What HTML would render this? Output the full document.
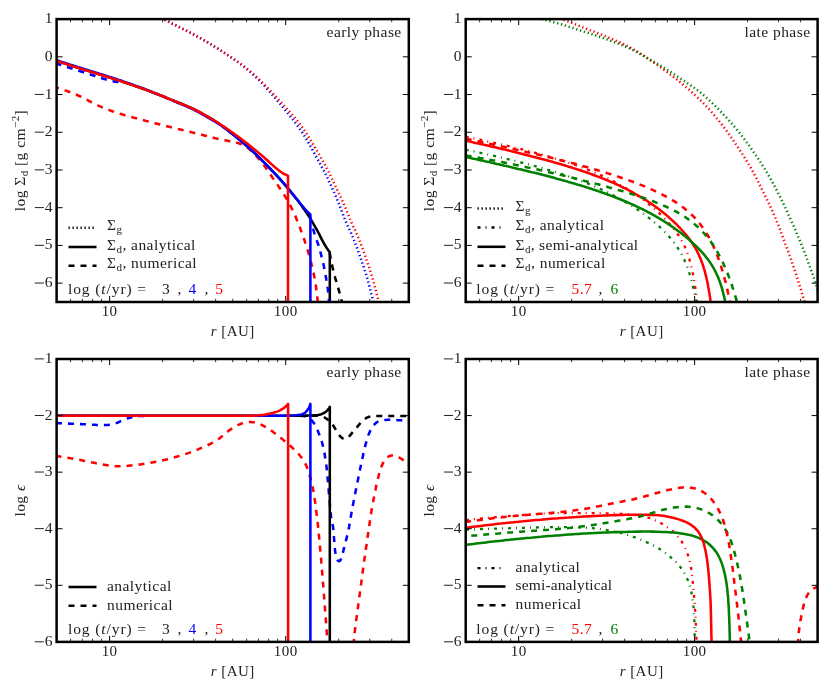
<!DOCTYPE html>
<html><head><meta charset="utf-8"><title>fig</title>
<style>
html,body{margin:0;padding:0;background:#fff;}
body{width:830px;height:692px;overflow:hidden;font-family:"Liberation Serif",serif;}
svg{display:block;}
text{font-family:"Liberation Serif",serif;letter-spacing:0.45px;}
</style></head><body>
<svg width="830" height="692" viewBox="0 0 830 692">
<rect x="0" y="0" width="830" height="692" fill="#fff"/>
<defs>
<clipPath id="c1"><rect x="56.60" y="19.10" width="352.20" height="282.90"/></clipPath>
<clipPath id="c2"><rect x="465.70" y="19.10" width="351.90" height="282.90"/></clipPath>
<clipPath id="c3"><rect x="56.60" y="359.00" width="352.20" height="282.90"/></clipPath>
<clipPath id="c4"><rect x="465.70" y="359.00" width="351.90" height="282.90"/></clipPath>
</defs>
<g clip-path="url(#c1)" fill="none" stroke-linejoin="round">
<path d="M150.0 13.0 L152.3 14.0 L154.6 15.0 L156.9 16.0 L159.1 17.1 L161.4 18.2 L163.7 19.3 L165.9 20.4 L168.1 21.5 L170.4 22.7 L172.6 23.8 L174.8 24.9 L177.1 26.0 L179.3 27.1 L181.6 28.3 L183.8 29.4 L186.0 30.5 L188.3 31.7 L190.5 32.8 L192.7 34.0 L194.9 35.2 L197.1 36.4 L199.3 37.6 L201.5 38.8 L203.7 40.0 L205.8 41.3 L208.0 42.5 L210.2 43.8 L212.3 45.1 L214.4 46.5 L216.5 47.8 L218.7 49.1 L220.8 50.5 L222.9 51.9 L225.0 53.2 L227.0 54.6 L229.1 56.0 L231.2 57.4 L233.3 58.8 L235.3 60.3 L237.4 61.7 L239.4 63.2 L241.4 64.7 L243.4 66.2 L245.3 67.8 L247.3 69.4 L249.2 71.0 L251.0 72.7 L252.9 74.3 L254.7 76.0 L256.6 77.8 L258.4 79.5 L260.1 81.3 L261.9 83.1 L263.6 84.9 L265.3 86.7 L267.0 88.6 L268.7 90.5 L270.3 92.3 L271.9 94.3 L273.5 96.2 L275.2 98.1 L276.8 100.0 L278.4 101.9 L280.0 103.8 L281.6 105.7 L283.2 107.7 L284.8 109.6 L286.4 111.5 L288.0 113.5 L289.6 115.4 L291.1 117.4 L292.7 119.3 L294.2 121.3 L295.7 123.3 L297.2 125.3 L298.7 127.4 L300.1 129.4 L301.5 131.5 L302.9 133.6 L304.3 135.7 L305.6 137.8 L306.9 140.0 L308.1 142.1 L309.4 144.3 L310.6 146.5 L311.8 148.7 L313.0 150.9 L314.2 153.1 L315.4 155.3 L316.6 157.5 L317.9 159.6 L319.1 161.8 L320.2 164.0 L321.4 166.3 L322.6 168.5 L323.8 170.7 L324.9 172.9 L326.1 175.1 L327.2 177.4 L328.3 179.6 L329.3 181.9 L330.4 184.2 L331.4 186.5 L332.4 188.7 L333.5 191.0 L334.5 193.3 L335.5 195.6 L336.5 197.9 L337.4 200.2 L338.4 202.6 L339.3 204.9 L340.2 207.2 L341.1 209.6 L342.0 211.9 L342.9 214.3 L343.8 216.6 L344.7 218.9 L345.6 221.2 L346.6 223.5 L347.7 225.8 L348.7 228.1 L349.8 230.3 L350.9 232.6 L351.9 234.9 L352.9 237.2 L353.8 239.5 L354.7 241.8 L355.6 244.2 L356.5 246.5 L357.4 248.9 L358.2 251.2 L359.0 253.6 L359.9 256.0 L360.7 258.3 L361.5 260.7 L362.3 263.1 L363.2 265.4 L364.0 267.8 L364.7 270.2 L365.5 272.6 L366.3 275.0 L367.0 277.4 L367.7 279.8 L368.3 282.2 L369.0 284.6 L369.6 287.0 L370.2 289.5 L370.8 291.9 L371.4 294.3 L372.1 296.7 L372.7 299.2 L373.4 301.6 L374.0 304.0" stroke="#0000ff" stroke-width="2.50" stroke-dasharray="1.3 2.7"/>
<path d="M150.0 13.0 L152.3 14.0 L154.6 15.0 L156.9 16.0 L159.2 17.1 L161.4 18.2 L163.7 19.3 L165.9 20.4 L168.1 21.5 L170.4 22.7 L172.6 23.8 L174.9 24.9 L177.1 26.0 L179.3 27.1 L181.6 28.3 L183.8 29.4 L186.1 30.5 L188.3 31.7 L190.5 32.8 L192.7 34.0 L194.9 35.2 L197.1 36.4 L199.3 37.6 L201.5 38.8 L203.7 40.0 L205.9 41.3 L208.0 42.6 L210.2 43.9 L212.3 45.2 L214.5 46.5 L216.6 47.8 L218.7 49.2 L220.8 50.5 L222.9 51.9 L225.0 53.3 L227.1 54.6 L229.2 56.0 L231.3 57.4 L233.4 58.8 L235.4 60.2 L237.5 61.6 L239.5 63.1 L241.6 64.6 L243.6 66.1 L245.5 67.6 L247.5 69.2 L249.4 70.8 L251.3 72.4 L253.2 74.0 L255.1 75.7 L256.9 77.4 L258.8 79.1 L260.6 80.9 L262.4 82.6 L264.1 84.4 L265.9 86.2 L267.6 88.0 L269.4 89.8 L271.1 91.6 L272.8 93.4 L274.5 95.3 L276.2 97.1 L277.9 98.9 L279.6 100.8 L281.3 102.6 L283.0 104.5 L284.7 106.3 L286.4 108.2 L288.0 110.1 L289.7 111.9 L291.4 113.8 L293.0 115.7 L294.7 117.6 L296.3 119.5 L297.9 121.5 L299.4 123.4 L300.9 125.4 L302.4 127.5 L303.8 129.5 L305.2 131.6 L306.6 133.7 L307.9 135.8 L309.2 137.9 L310.5 140.1 L311.8 142.2 L313.1 144.4 L314.4 146.5 L315.7 148.7 L317.0 150.8 L318.2 153.0 L319.5 155.2 L320.7 157.3 L322.0 159.5 L323.2 161.7 L324.4 163.9 L325.6 166.1 L326.7 168.3 L327.9 170.6 L329.1 172.8 L330.2 175.0 L331.3 177.3 L332.4 179.5 L333.5 181.8 L334.5 184.1 L335.5 186.3 L336.6 188.6 L337.6 190.9 L338.7 193.2 L339.8 195.4 L340.9 197.7 L342.0 199.9 L343.0 202.2 L344.0 204.5 L345.0 206.8 L346.0 209.1 L346.9 211.4 L347.8 213.8 L348.8 216.1 L349.7 218.4 L350.7 220.7 L351.7 223.0 L352.7 225.3 L353.8 227.6 L354.9 229.8 L355.9 232.1 L357.0 234.4 L358.0 236.7 L358.9 239.0 L359.8 241.3 L360.7 243.7 L361.6 246.0 L362.5 248.4 L363.3 250.7 L364.2 253.1 L365.0 255.5 L365.8 257.8 L366.6 260.2 L367.5 262.6 L368.3 264.9 L369.1 267.3 L369.9 269.7 L370.7 272.1 L371.4 274.5 L372.1 276.9 L372.8 279.3 L373.5 281.7 L374.1 284.1 L374.8 286.5 L375.4 289.0 L376.0 291.4 L376.6 293.8 L377.2 296.2 L377.9 298.7 L378.5 301.1 L379.2 303.5 L379.3 304.0" stroke="#ff0000" stroke-width="2.50" stroke-dasharray="1.3 2.7"/>
<path d="M57.0 61.0 L59.4 61.8 L61.8 62.6 L64.1 63.4 L66.5 64.1 L68.9 64.9 L71.3 65.7 L73.7 66.4 L76.1 67.2 L78.5 67.9 L80.8 68.7 L83.2 69.4 L85.6 70.2 L88.0 70.9 L90.4 71.6 L92.8 72.4 L95.2 73.1 L97.6 73.8 L100.0 74.6 L102.4 75.3 L104.8 76.1 L107.2 76.8 L109.6 77.6 L112.0 78.3 L114.3 79.1 L116.7 79.8 L119.1 80.6 L121.5 81.4 L123.9 82.2 L126.2 83.0 L128.6 83.8 L131.0 84.6 L133.4 85.4 L135.7 86.2 L138.1 87.0 L140.5 87.8 L142.8 88.7 L145.2 89.5 L147.5 90.4 L149.9 91.3 L152.2 92.2 L154.6 93.1 L156.9 94.0 L159.2 94.9 L161.6 95.8 L163.9 96.7 L166.2 97.7 L168.5 98.6 L170.8 99.6 L173.2 100.5 L175.5 101.5 L177.8 102.4 L180.1 103.3 L182.5 104.3 L184.8 105.2 L187.1 106.2 L189.4 107.2 L191.7 108.2 L194.0 109.2 L196.2 110.3 L198.4 111.5 L200.6 112.7 L202.8 113.9 L205.0 115.1 L207.2 116.4 L209.3 117.6 L211.5 118.9 L213.7 120.2 L215.8 121.5 L217.9 122.9 L219.9 124.3 L222.0 125.7 L224.0 127.2 L226.0 128.8 L227.9 130.3 L229.9 131.9 L231.8 133.5 L233.8 135.0 L235.7 136.6 L237.7 138.2 L239.6 139.8 L241.5 141.4 L243.4 143.0 L245.3 144.7 L247.2 146.3 L249.1 148.0 L250.9 149.7 L252.8 151.4 L254.6 153.1 L256.4 154.8 L258.2 156.6 L260.0 158.3 L261.8 160.1 L263.5 161.9 L265.3 163.6 L267.0 165.4 L268.8 167.2 L270.5 169.0 L272.3 170.8 L274.0 172.6 L275.7 174.5 L277.4 176.3 L279.1 178.2 L280.8 180.0 L282.4 181.9 L284.0 183.8 L285.7 185.7 L287.3 187.7 L288.9 189.6 L290.5 191.5 L292.0 193.5 L293.6 195.4 L295.2 197.4 L296.7 199.3 L298.3 201.3 L299.8 203.3 L301.3 205.3 L302.7 207.4 L304.2 209.4 L305.6 211.5 L307.0 213.5 L308.4 215.6 L309.7 217.7 L311.1 219.9 L312.4 222.0 L313.6 224.2 L314.9 226.3 L316.1 228.5 L317.3 230.7 L318.5 232.9 L319.7 235.2 L320.8 237.4 L321.9 239.6 L323.1 241.8 L324.3 244.0 L325.6 246.2 L326.9 248.3 L328.3 250.3 L329.8 252.3 L329.8 304.0" stroke="#000000" stroke-width="2.55"/>
<path d="M329.6 252.8 L329.7 253.3 L329.8 253.8 L329.9 254.3 L330.0 254.8 L330.1 255.3 L330.2 255.8 L330.2 256.3 L330.3 256.8 L330.4 257.3 L330.5 257.8 L330.6 258.3 L330.7 258.8 L330.8 259.3 L330.9 259.8 L331.0 260.3 L331.1 260.8 L331.2 261.3 L331.3 261.8 L331.4 262.3 L331.5 262.8 L331.6 263.3 L331.7 263.8 L331.8 264.3 L332.0 264.8 L332.1 265.3 L332.2 265.8 L332.3 266.3 L332.4 266.8 L332.5 267.2 L332.6 267.7 L332.7 268.2 L332.9 268.7 L333.0 269.2 L333.1 269.7 L333.2 270.2 L333.3 270.7 L333.5 271.2 L333.6 271.7 L333.7 272.2 L333.8 272.7 L334.0 273.2 L334.1 273.7 L334.2 274.2 L334.3 274.6 L334.5 275.1 L334.6 275.6 L334.7 276.1 L334.9 276.6 L335.0 277.1 L335.1 277.6 L335.3 278.1 L335.4 278.6 L335.6 279.1 L335.7 279.5 L335.8 280.0 L336.0 280.5 L336.1 281.0 L336.3 281.5 L336.4 282.0 L336.6 282.5 L336.7 283.0 L336.8 283.4 L337.0 283.9 L337.1 284.4 L337.3 284.9 L337.4 285.4 L337.6 285.9 L337.7 286.4 L337.8 286.9 L338.0 287.3 L338.1 287.8 L338.3 288.3 L338.4 288.8 L338.6 289.3 L338.7 289.8 L338.8 290.3 L339.0 290.8 L339.1 291.3 L339.2 291.7 L339.4 292.2 L339.5 292.7 L339.7 293.2 L339.8 293.7 L339.9 294.2 L340.1 294.7 L340.2 295.2 L340.3 295.7 L340.5 296.2 L340.6 296.6 L340.7 297.1 L340.9 297.6 L341.0 298.1 L341.1 298.6 L341.3 299.1 L341.4 299.6 L341.5 300.1 L341.7 300.6 L341.8 301.1 L341.9 301.6 L342.0 302.0 L342.2 302.5 L342.3 303.0 L342.4 303.5 L342.6 304.0 L342.7 304.5" stroke="#000000" stroke-width="2.55" stroke-dasharray="6 6"/>
<path d="M57.0 63.8 L57.5 64.0 L58.0 64.1 L58.4 64.3 L58.9 64.4 L59.4 64.6 L59.9 64.7 L60.4 64.9 L60.9 65.0 L61.3 65.2 L61.8 65.3 L62.3 65.5 L62.8 65.7 L63.3 65.8 L63.7 66.0 L64.2 66.1 L64.7 66.3 L65.2 66.4 L65.7 66.6 L66.2 66.7 L66.6 66.9 L67.1 67.0 L67.6 67.2 L68.1 67.4 L68.6 67.5 L69.1 67.7 L69.5 67.8 L70.0 68.0 L70.5 68.1 L71.0 68.3 L71.5 68.4 L71.9 68.6 L72.4 68.7 L72.9 68.9 L73.4 69.1 L73.9 69.2 L74.4 69.4 L74.8 69.5 L75.3 69.7 L75.8 69.8 L76.3 70.0 L76.8 70.1 L77.3 70.3 L77.7 70.4 L78.2 70.6 L78.7 70.8 L79.2 70.9 L79.7 71.1 L80.1 71.2 L80.6 71.4 L81.1 71.5 L81.6 71.7 L82.1 71.8 L82.6 72.0 L83.0 72.1 L83.5 72.3 L84.0 72.5 L84.5 72.6 L85.0 72.8 L85.4 72.9 L85.9 73.1 L86.4 73.2 L86.9 73.4 L87.4 73.5 L87.9 73.7 L88.3 73.8 L88.8 74.0 L89.3 74.2 L89.8 74.3 L90.3 74.5 L90.7 74.6 L91.2 74.8 L91.7 74.9 L92.2 75.1 L92.7 75.2 L93.2 75.4 L93.6 75.5 L94.1 75.7 L94.6 75.9 L95.1 76.0 L95.6 76.2 L96.1 76.3 L96.5 76.5 L97.0 76.6 L97.5 76.8 L98.0 76.9 L98.5 77.1 L98.9 77.3 L99.4 77.4 L99.9 77.6 L100.4 77.7 L100.9 77.9 L101.4 78.0 L101.8 78.2 L102.3 78.4 L102.8 78.5 L103.3 78.7 L103.8 78.8 L104.2 79.0 L104.7 79.1 L105.2 79.3 L105.7 79.4 L106.2 79.6 L106.7 79.7 L107.1 79.9 L107.6 80.0 L108.1 80.2 L108.6 80.3 L109.1 80.4 L109.6 80.6 L110.1 80.7 L110.6 80.8 L111.0 80.9 L111.5 81.0 L112.0 81.2 L112.5 81.3 L113.0 81.3 L113.5 81.4 L114.0 81.5 L114.5 81.6 L115.0 81.7 L115.5 81.7 L116.0 81.8 L116.5 81.8 L117.0 81.9 L117.5 81.9 L118.0 81.9 L118.5 81.9 L119.0 81.9 L119.5 82.0 L120.0 82.0 L120.5 82.0 L121.0 81.9 L121.5 81.9 L122.0 81.9 L122.5 81.9 L123.0 81.9" stroke="#0000ff" stroke-width="2.55" stroke-dasharray="6 6" stroke-dashoffset="1.5"/>
<path d="M310.3 217.0 L310.5 218.0 L310.7 219.0 L310.9 220.0 L311.2 221.0 L311.4 221.9 L311.6 222.9 L311.8 223.9 L312.1 224.9 L312.3 225.9 L312.6 226.8 L312.8 227.8 L313.1 228.8 L313.4 229.8 L313.7 230.7 L313.9 231.7 L314.2 232.6 L314.5 233.6 L314.9 234.6 L315.2 235.5 L315.5 236.5 L315.8 237.4 L316.2 238.4 L316.5 239.3 L316.8 240.3 L317.1 241.3 L317.4 242.2 L317.8 243.2 L318.1 244.1 L318.4 245.1 L318.7 246.1 L319.0 247.0 L319.2 248.0 L319.5 249.0 L319.8 249.9 L320.1 250.9 L320.3 251.9 L320.6 252.8 L320.9 253.8 L321.1 254.8 L321.4 255.8 L321.6 256.8 L321.9 257.7 L322.1 258.7 L322.3 259.7 L322.6 260.7 L322.8 261.7 L323.0 262.6 L323.3 263.6 L323.5 264.6 L323.7 265.6 L323.9 266.6 L324.1 267.6 L324.3 268.6 L324.5 269.6 L324.7 270.5 L324.9 271.5 L325.1 272.5 L325.3 273.5 L325.4 274.5 L325.6 275.5 L325.8 276.5 L326.0 277.5 L326.2 278.5 L326.3 279.5 L326.5 280.5 L326.7 281.5 L326.8 282.5 L327.0 283.5 L327.2 284.5 L327.3 285.5 L327.5 286.4 L327.6 287.4 L327.8 288.4 L327.9 289.4 L328.0 290.4 L328.1 291.4 L328.3 292.4 L328.4 293.4 L328.5 294.5 L328.6 295.5 L328.7 296.5 L328.8 297.5 L328.9 298.5 L328.9 299.5 L329.0 300.5 L329.1 301.5 L329.2 302.5 L329.3 303.5 L329.4 304.5" stroke="#0000ff" stroke-width="2.55" stroke-dasharray="6 6"/>
<path d="M57.0 87.8 L59.4 88.5 L61.8 89.3 L64.2 90.1 L66.6 90.9 L68.9 91.7 L71.3 92.6 L73.6 93.5 L75.9 94.5 L78.2 95.5 L80.4 96.5 L82.7 97.6 L84.9 98.8 L87.2 99.9 L89.4 101.1 L91.6 102.3 L93.8 103.4 L96.1 104.5 L98.3 105.6 L100.6 106.6 L102.9 107.6 L105.2 108.6 L107.6 109.5 L109.9 110.4 L112.3 111.3 L114.6 112.1 L117.0 112.8 L119.4 113.6 L121.8 114.3 L124.2 115.0 L126.6 115.7 L129.0 116.4 L131.5 117.0 L133.9 117.7 L136.3 118.3 L138.7 119.0 L141.1 119.6 L143.6 120.2 L146.0 120.9 L148.4 121.5 L150.8 122.1 L153.3 122.8 L155.7 123.4 L158.1 124.0 L160.6 124.6 L163.0 125.2 L165.4 125.8 L167.8 126.4 L170.3 127.1 L172.7 127.7 L175.1 128.3 L177.6 128.9 L180.0 129.4 L182.4 130.0 L184.9 130.6 L187.3 131.2 L189.7 131.8 L192.2 132.4 L194.6 133.0 L197.1 133.6 L199.5 134.2 L201.9 134.8 L204.3 135.4 L206.8 136.1 L209.2 136.7 L211.6 137.3 L214.1 137.9 L216.5 138.5 L218.9 139.1 L221.4 139.6 L223.8 140.2 L226.3 140.6 L228.7 141.1 L231.2 141.6 L233.7 142.0 L236.1 142.6 L238.5 143.2 L240.9 144.0 L243.1 145.0 L245.2 146.2 L247.3 147.6 L249.2 149.1 L251.1 150.8 L252.9 152.5 L254.6 154.3 L256.4 156.2 L258.0 158.0 L259.7 159.9 L261.3 161.8 L262.8 163.8 L264.3 165.8 L265.8 167.8 L267.2 169.9 L268.6 172.0 L270.0 174.0 L271.5 176.1 L272.9 178.2 L274.3 180.2 L275.7 182.3 L277.2 184.3 L278.6 186.4 L280.0 188.4 L281.4 190.5 L282.8 192.6 L284.1 194.8 L285.4 196.9 L286.7 199.1 L288.0 201.2 L289.2 203.4 L290.3 205.7 L291.5 207.9 L292.6 210.1 L293.6 212.4 L294.7 214.7 L295.7 216.9 L296.6 219.3 L297.6 221.6 L298.5 223.9 L299.4 226.3 L300.3 228.6 L301.1 231.0 L302.0 233.3 L302.8 235.7 L303.7 238.1 L304.5 240.4 L305.3 242.8 L306.1 245.2 L306.8 247.6 L307.6 250.0 L308.3 252.4 L309.0 254.8 L309.7 257.2 L310.4 259.6 L311.0 262.0 L311.6 264.5 L312.2 266.9 L312.8 269.3 L313.3 271.8 L313.8 274.2 L314.3 276.7 L314.8 279.2 L315.2 281.6 L315.6 284.1 L316.0 286.6 L316.3 289.1 L316.6 291.5 L316.9 294.0 L317.2 296.5 L317.5 299.0 L317.7 301.5 L318.0 304.0 L318.0 304.5" stroke="#ff0000" stroke-width="2.55" stroke-dasharray="6 6" stroke-dashoffset="4"/>
<path d="M57.0 60.3 L58.9 60.9 L60.8 61.6 L62.7 62.2 L64.6 62.8 L66.5 63.4 L68.4 64.0 L70.3 64.7 L72.2 65.3 L74.2 65.9 L76.1 66.5 L78.0 67.1 L79.9 67.7 L81.8 68.3 L83.7 68.9 L85.6 69.5 L87.6 70.0 L89.5 70.6 L91.4 71.2 L93.3 71.8 L95.2 72.4 L97.1 73.0 L99.1 73.6 L101.0 74.2 L102.9 74.8 L104.8 75.4 L106.7 76.0 L108.6 76.6 L110.5 77.2 L112.4 77.8 L114.3 78.4 L116.3 79.0 L118.2 79.7 L120.1 80.3 L122.0 80.9 L123.9 81.6 L125.8 82.2 L127.7 82.9 L129.5 83.5 L131.4 84.2 L133.3 84.9 L135.2 85.6 L137.1 86.2 L139.0 86.9 L140.9 87.6 L142.7 88.3 L144.6 89.0 L146.5 89.8 L148.3 90.5 L150.2 91.2 L152.1 92.0 L153.9 92.7 L155.8 93.5 L157.7 94.2 L159.5 95.0 L161.4 95.7 L163.2 96.5 L165.1 97.3 L166.9 98.1 L168.7 98.9 L170.6 99.6 L172.4 100.4 L174.3 101.2 L176.1 102.0 L178.0 102.8 L179.8 103.6 L181.7 104.3 L183.5 105.1 L185.4 105.9 L187.2 106.7 L189.0 107.5 L190.9 108.3 L192.7 109.2 L194.5 110.1 L196.3 111.0 L198.0 111.9 L199.8 112.8 L201.6 113.8 L203.3 114.8 L205.1 115.8 L206.8 116.8 L208.5 117.8 L210.3 118.8 L212.0 119.8 L213.7 120.8 L215.4 121.9 L217.1 122.9 L218.8 124.0 L220.5 125.1 L222.1 126.3 L223.7 127.5 L225.4 128.6 L227.0 129.8 L228.6 131.0 L230.1 132.3 L231.7 133.5 L233.3 134.7 L234.9 136.0 L236.4 137.2 L238.0 138.5 L239.5 139.8 L241.1 141.1 L242.6 142.4 L244.1 143.7 L245.7 145.0 L247.2 146.3 L248.7 147.6 L250.1 149.0 L251.6 150.3 L253.1 151.7 L254.6 153.1 L256.0 154.4 L257.5 155.8 L258.9 157.2 L260.3 158.6 L261.7 160.1 L263.1 161.5 L264.6 162.9 L266.0 164.3 L267.4 165.8 L268.8 167.2 L270.2 168.7 L271.5 170.1 L272.9 171.5 L274.3 173.0 L275.7 174.5 L277.1 175.9 L278.4 177.4 L279.8 178.9 L281.1 180.4 L282.4 181.9 L283.8 183.4 L285.1 184.9 L286.4 186.4 L287.7 187.9 L289.0 189.5 L290.3 191.0 L291.5 192.5 L292.8 194.1 L294.1 195.6 L295.3 197.2 L296.6 198.8 L297.8 200.3 L299.1 201.9 L300.3 203.5 L301.6 205.0 L302.9 206.6 L304.1 208.1 L305.5 209.6 L306.8 211.1 L308.2 212.5 L309.7 213.8 L310.4 214.5 L310.4 304.0" stroke="#0000ff" stroke-width="2.55"/>
<path d="M57.0 61.0 L58.9 61.6 L60.8 62.3 L62.7 62.9 L64.6 63.5 L66.5 64.1 L68.4 64.7 L70.3 65.4 L72.2 66.0 L74.1 66.6 L76.1 67.2 L78.0 67.8 L79.9 68.4 L81.8 69.0 L83.7 69.6 L85.6 70.2 L87.5 70.7 L89.5 71.3 L91.4 71.9 L93.3 72.5 L95.2 73.1 L97.1 73.7 L99.0 74.3 L101.0 74.9 L102.9 75.5 L104.8 76.1 L106.7 76.7 L108.6 77.3 L110.5 77.9 L112.4 78.5 L114.3 79.1 L116.2 79.7 L118.1 80.3 L120.1 80.9 L122.0 81.5 L123.9 82.2 L125.8 82.8 L127.7 83.4 L129.6 84.1 L131.5 84.7 L133.4 85.4 L135.3 86.0 L137.1 86.7 L139.0 87.3 L140.9 88.0 L142.8 88.7 L144.7 89.4 L146.6 90.1 L148.5 90.7 L150.3 91.4 L152.2 92.2 L154.1 92.9 L156.0 93.6 L157.8 94.3 L159.7 95.1 L161.5 95.8 L163.4 96.5 L165.3 97.3 L167.1 98.1 L169.0 98.8 L170.8 99.6 L172.7 100.3 L174.5 101.1 L176.4 101.8 L178.3 102.6 L180.1 103.3 L182.0 104.1 L183.8 104.8 L185.7 105.6 L187.6 106.4 L189.4 107.1 L191.2 108.0 L193.0 108.8 L194.8 109.7 L196.6 110.6 L198.4 111.5 L200.2 112.4 L201.9 113.4 L203.7 114.4 L205.4 115.4 L207.1 116.4 L208.9 117.4 L210.6 118.4 L212.3 119.4 L214.0 120.5 L215.8 121.5 L217.5 122.5 L219.2 123.6 L220.9 124.7 L222.5 125.8 L224.2 126.9 L225.9 128.0 L227.5 129.1 L229.2 130.3 L230.8 131.4 L232.4 132.6 L234.1 133.7 L235.7 134.9 L237.3 136.1 L239.0 137.3 L240.6 138.5 L242.2 139.7 L243.8 140.9 L245.3 142.1 L246.9 143.3 L248.5 144.6 L250.1 145.8 L251.6 147.1 L253.2 148.4 L254.7 149.6 L256.3 150.9 L257.8 152.2 L259.4 153.5 L260.9 154.7 L262.4 156.0 L263.9 157.3 L265.4 158.7 L267.0 160.0 L268.4 161.3 L269.9 162.7 L271.4 164.1 L272.9 165.4 L274.4 166.8 L275.9 168.1 L277.4 169.3 L279.0 170.6 L280.6 171.7 L282.3 172.8 L284.0 173.8 L285.8 174.7 L287.6 175.6 L288.0 175.8 L288.0 304.0" stroke="#ff0000" stroke-width="2.55"/>
</g>
<g clip-path="url(#c2)" fill="none" stroke-linejoin="round">
<path d="M545.0 12.5 L547.8 13.6 L550.6 14.7 L553.4 15.8 L556.2 16.9 L559.0 18.0 L561.8 19.0 L564.6 20.1 L567.4 21.2 L570.2 22.3 L573.0 23.4 L575.8 24.5 L578.6 25.6 L581.4 26.7 L584.2 27.9 L587.0 29.0 L589.8 30.1 L592.6 31.1 L595.4 32.2 L598.2 33.3 L601.0 34.4 L603.8 35.5 L606.5 36.7 L609.3 37.8 L612.1 39.0 L614.8 40.2 L617.6 41.4 L620.3 42.7 L623.0 44.0 L625.7 45.3 L628.4 46.6 L631.1 48.0 L633.7 49.5 L636.3 51.0 L638.9 52.6 L641.4 54.2 L643.9 55.9 L646.3 57.6 L648.8 59.3 L651.3 60.9 L653.8 62.6 L656.3 64.3 L658.8 66.0 L661.3 67.7 L663.7 69.5 L666.1 71.3 L668.5 73.1 L670.9 74.9 L673.3 76.8 L675.6 78.6 L678.0 80.5 L680.3 82.4 L682.6 84.3 L684.9 86.2 L687.2 88.2 L689.5 90.1 L691.7 92.1 L694.0 94.2 L696.2 96.2 L698.4 98.3 L700.5 100.3 L702.7 102.5 L704.8 104.6 L706.8 106.8 L708.9 109.0 L710.9 111.2 L712.8 113.5 L714.7 115.8 L716.6 118.2 L718.5 120.5 L720.4 122.8 L722.3 125.2 L724.1 127.6 L725.9 130.0 L727.7 132.4 L729.4 134.8 L731.2 137.3 L732.9 139.8 L734.6 142.3 L736.2 144.8 L737.9 147.3 L739.6 149.8 L741.2 152.3 L742.8 154.8 L744.4 157.3 L746.0 159.9 L747.6 162.5 L749.1 165.0 L750.7 167.6 L752.1 170.3 L753.6 172.9 L755.0 175.5 L756.4 178.2 L757.7 180.9 L759.1 183.6 L760.4 186.3 L761.7 189.0 L763.0 191.7 L764.4 194.4 L765.7 197.0 L767.1 199.7 L768.4 202.4 L769.7 205.1 L771.0 207.9 L772.2 210.6 L773.4 213.4 L774.6 216.1 L775.8 218.9 L776.9 221.7 L778.1 224.4 L779.2 227.2 L780.3 230.0 L781.3 232.9 L782.3 235.7 L783.4 238.5 L784.4 241.3 L785.4 244.1 L786.5 246.9 L787.6 249.8 L788.6 252.6 L789.6 255.4 L790.6 258.2 L791.6 261.1 L792.5 263.9 L793.5 266.8 L794.5 269.6 L795.4 272.5 L796.4 275.3 L797.3 278.2 L798.2 281.1 L799.1 283.9 L800.0 286.8 L800.9 289.7 L801.7 292.5 L802.6 295.4 L803.5 298.3 L804.5 301.1 L805.4 304.0" stroke="#ff0000" stroke-width="2.50" stroke-dasharray="1.3 2.7"/>
<path d="M530.0 16.0 L532.9 16.7 L535.8 17.5 L538.7 18.2 L541.7 19.0 L544.6 19.7 L547.5 20.5 L550.4 21.3 L553.3 22.1 L556.2 22.9 L559.0 23.7 L561.9 24.5 L564.8 25.4 L567.7 26.3 L570.5 27.2 L573.4 28.1 L576.2 29.1 L579.1 30.0 L581.9 31.0 L584.8 31.9 L587.7 32.8 L590.5 33.7 L593.4 34.7 L596.2 35.6 L599.1 36.6 L601.9 37.6 L604.8 38.6 L607.6 39.6 L610.4 40.7 L613.2 41.7 L616.0 42.8 L618.8 43.9 L621.6 45.0 L624.4 46.2 L627.1 47.3 L629.9 48.6 L632.6 49.9 L635.3 51.2 L637.9 52.6 L640.5 54.1 L643.1 55.6 L645.7 57.1 L648.3 58.6 L650.9 60.1 L653.5 61.6 L656.2 63.1 L658.8 64.6 L661.3 66.1 L663.9 67.7 L666.4 69.3 L669.0 70.9 L671.5 72.6 L674.0 74.2 L676.5 75.9 L679.0 77.5 L681.5 79.2 L684.0 80.8 L686.5 82.5 L689.0 84.2 L691.5 85.9 L693.9 87.6 L696.4 89.4 L698.7 91.2 L701.1 93.1 L703.4 95.0 L705.7 97.0 L707.9 99.0 L710.1 101.0 L712.3 103.1 L714.5 105.2 L716.6 107.3 L718.7 109.4 L720.8 111.6 L722.9 113.8 L724.9 116.0 L727.0 118.2 L729.0 120.4 L731.0 122.7 L732.9 124.9 L734.9 127.2 L736.8 129.5 L738.7 131.9 L740.6 134.2 L742.4 136.6 L744.2 139.0 L746.0 141.4 L747.8 143.8 L749.6 146.2 L751.3 148.7 L753.0 151.2 L754.7 153.6 L756.4 156.1 L758.1 158.6 L759.8 161.1 L761.4 163.6 L763.0 166.2 L764.6 168.7 L766.1 171.3 L767.7 173.9 L769.2 176.5 L770.7 179.1 L772.2 181.7 L773.6 184.3 L775.0 187.0 L776.4 189.6 L777.8 192.3 L779.2 195.0 L780.5 197.7 L781.8 200.4 L783.1 203.1 L784.4 205.8 L785.6 208.5 L786.9 211.3 L788.1 214.0 L789.4 216.7 L790.6 219.5 L791.9 222.2 L793.1 224.9 L794.4 227.7 L795.6 230.4 L796.7 233.2 L797.9 236.0 L799.0 238.8 L800.1 241.5 L801.3 244.3 L802.4 247.1 L803.6 249.9 L804.6 252.7 L805.7 255.5 L806.7 258.3 L807.8 261.1 L808.8 264.0 L809.8 266.8 L810.8 269.6 L811.9 272.4 L812.9 275.3 L813.9 278.1 L814.8 280.9 L815.7 283.8 L816.6 286.7 L817.5 289.5 L818.4 292.4 L819.4 295.3 L820.3 298.1 L821.0 300.0" stroke="#008000" stroke-width="2.50" stroke-dasharray="1.3 2.7"/>
<path d="M465.7 136.8 L467.6 137.2 L469.6 137.6 L471.5 138.0 L473.4 138.4 L475.3 138.8 L477.3 139.2 L479.2 139.6 L481.1 140.0 L483.0 140.4 L485.0 140.8 L486.9 141.3 L488.8 141.7 L490.7 142.1 L492.6 142.5 L494.6 142.9 L496.5 143.4 L498.4 143.8 L500.3 144.2 L502.2 144.7 L504.2 145.1 L506.1 145.6 L508.0 146.0 L509.9 146.5 L511.8 146.9 L513.7 147.4 L515.7 147.8 L517.6 148.3 L519.5 148.8 L521.4 149.2 L523.3 149.7 L525.2 150.2 L527.1 150.7 L529.0 151.2 L530.9 151.7 L532.8 152.2 L534.7 152.7 L536.6 153.2 L538.5 153.7 L540.4 154.2 L542.3 154.7 L544.2 155.3 L546.1 155.8 L548.0 156.3 L549.9 156.9 L551.8 157.4 L553.7 158.0 L555.6 158.6 L557.5 159.1 L559.3 159.7 L561.2 160.3 L563.1 160.9 L565.0 161.5 L566.8 162.1 L568.7 162.7 L570.6 163.4 L572.4 164.0 L574.3 164.6 L576.1 165.3 L578.0 166.0 L579.8 166.6 L581.7 167.3 L583.5 168.0 L585.4 168.7 L587.2 169.4 L589.0 170.2 L590.9 170.9 L592.7 171.6 L594.5 172.4 L596.3 173.2 L598.1 174.0 L599.9 174.8 L601.7 175.6 L603.5 176.4 L605.3 177.2 L607.1 178.1 L608.8 178.9 L610.6 179.8 L612.3 180.7 L614.1 181.6 L615.8 182.5 L617.6 183.4 L619.3 184.4 L621.0 185.3 L622.7 186.3 L624.4 187.3 L626.1 188.3 L627.8 189.3 L629.5 190.4 L631.1 191.4 L632.8 192.5 L634.4 193.6 L636.1 194.7 L637.7 195.8 L639.3 196.9 L640.9 198.1 L642.5 199.2 L644.1 200.4 L645.6 201.6 L647.2 202.8 L648.7 204.1 L650.2 205.3 L651.7 206.6 L653.2 207.8 L654.7 209.1 L656.2 210.4 L657.7 211.8 L659.1 213.1 L660.5 214.5 L661.9 215.8 L663.3 217.2 L664.7 218.6 L666.1 220.0 L667.4 221.5 L668.7 222.9 L670.0 224.4 L671.3 225.9 L672.6 227.4 L673.8 229.0 L675.0 230.5 L676.2 232.1 L677.3 233.7 L678.5 235.3 L679.5 237.0 L680.6 238.6 L681.5 240.3 L682.5 242.1 L683.4 243.8 L684.3 245.6 L685.1 247.4 L685.9 249.2 L686.6 251.0 L687.3 252.8 L688.0 254.7 L688.6 256.6 L689.2 258.4 L689.7 260.3 L690.3 262.2 L690.8 264.1 L691.2 266.0 L691.7 268.0 L692.1 269.9 L692.5 271.8 L692.9 273.7 L693.3 275.7 L693.6 277.6 L694.0 279.5 L694.3 281.5 L694.6 283.4 L694.9 285.4 L695.2 287.3 L695.5 289.3 L695.7 291.2 L696.0 293.2 L696.2 295.1 L696.5 297.1 L696.7 299.0 L696.9 301.0 L697.1 302.9 L697.3 304.9" stroke="#ff0000" stroke-width="2.30" stroke-dasharray="3 5 1 5"/>
<path d="M465.7 140.7 L467.7 141.1 L469.6 141.5 L471.6 142.0 L473.5 142.4 L475.5 142.9 L477.4 143.3 L479.4 143.7 L481.4 144.2 L483.3 144.6 L485.3 145.1 L487.2 145.5 L489.2 146.0 L491.1 146.4 L493.1 146.9 L495.1 147.3 L497.0 147.8 L499.0 148.3 L500.9 148.7 L502.9 149.2 L504.8 149.6 L506.8 150.1 L508.7 150.6 L510.7 151.0 L512.6 151.5 L514.6 152.0 L516.5 152.5 L518.5 152.9 L520.4 153.4 L522.4 153.9 L524.3 154.4 L526.3 154.9 L528.2 155.4 L530.2 155.9 L532.1 156.4 L534.0 156.9 L536.0 157.4 L537.9 157.9 L539.9 158.4 L541.8 158.9 L543.7 159.4 L545.7 160.0 L547.6 160.5 L549.5 161.0 L551.5 161.6 L553.4 162.1 L555.3 162.7 L557.3 163.2 L559.2 163.8 L561.1 164.3 L563.0 164.9 L565.0 165.5 L566.9 166.1 L568.8 166.7 L570.7 167.3 L572.6 167.9 L574.6 168.5 L576.5 169.1 L578.4 169.7 L580.3 170.3 L582.2 171.0 L584.1 171.6 L586.0 172.3 L587.9 172.9 L589.8 173.6 L591.6 174.3 L593.5 175.0 L595.4 175.7 L597.3 176.4 L599.2 177.1 L601.0 177.8 L602.9 178.6 L604.8 179.3 L606.6 180.1 L608.5 180.8 L610.3 181.6 L612.2 182.4 L614.0 183.2 L615.8 184.0 L617.7 184.9 L619.5 185.7 L621.3 186.6 L623.1 187.5 L624.9 188.3 L626.7 189.2 L628.5 190.2 L630.3 191.1 L632.0 192.0 L633.8 193.0 L635.5 194.0 L637.3 195.0 L639.0 196.0 L640.7 197.0 L642.5 198.0 L644.2 199.1 L645.9 200.2 L647.6 201.2 L649.2 202.4 L650.9 203.5 L652.5 204.6 L654.2 205.8 L655.8 206.9 L657.4 208.1 L659.0 209.3 L660.6 210.6 L662.2 211.8 L663.8 213.1 L665.3 214.3 L666.9 215.6 L668.4 216.9 L669.9 218.3 L671.4 219.6 L672.9 221.0 L674.3 222.3 L675.8 223.7 L677.2 225.1 L678.6 226.6 L680.0 228.0 L681.3 229.5 L682.7 231.0 L684.0 232.5 L685.3 234.0 L686.6 235.6 L687.8 237.1 L689.1 238.7 L690.3 240.3 L691.4 242.0 L692.5 243.6 L693.6 245.3 L694.7 247.0 L695.7 248.8 L696.7 250.5 L697.6 252.3 L698.5 254.1 L699.3 255.9 L700.1 257.8 L700.9 259.6 L701.6 261.5 L702.3 263.4 L702.9 265.3 L703.6 267.2 L704.1 269.1 L704.7 271.0 L705.2 273.0 L705.7 274.9 L706.2 276.9 L706.6 278.8 L707.1 280.8 L707.5 282.8 L707.9 284.7 L708.2 286.7 L708.6 288.7 L708.9 290.6 L709.3 292.6 L709.6 294.6 L709.9 296.6 L710.2 298.6 L710.4 300.6 L710.7 302.5 L711.0 304.5" stroke="#ff0000" stroke-width="2.55"/>
<path d="M465.7 138.7 L467.8 139.1 L469.9 139.6 L472.0 140.0 L474.1 140.4 L476.2 140.9 L478.3 141.3 L480.4 141.8 L482.5 142.2 L484.6 142.7 L486.6 143.1 L488.7 143.6 L490.8 144.0 L492.9 144.5 L495.0 144.9 L497.1 145.4 L499.2 145.8 L501.3 146.3 L503.4 146.7 L505.5 147.2 L507.6 147.7 L509.7 148.1 L511.7 148.6 L513.8 149.1 L515.9 149.5 L518.0 150.0 L520.1 150.5 L522.2 150.9 L524.3 151.4 L526.4 151.9 L528.5 152.4 L530.5 152.9 L532.6 153.3 L534.7 153.8 L536.8 154.3 L538.9 154.8 L541.0 155.3 L543.0 155.8 L545.1 156.3 L547.2 156.8 L549.3 157.3 L551.4 157.8 L553.4 158.3 L555.5 158.8 L557.6 159.4 L559.7 159.9 L561.7 160.4 L563.8 160.9 L565.9 161.5 L568.0 162.0 L570.0 162.5 L572.1 163.1 L574.2 163.6 L576.3 164.2 L578.3 164.7 L580.4 165.3 L582.4 165.9 L584.5 166.4 L586.6 167.0 L588.6 167.6 L590.7 168.2 L592.8 168.8 L594.8 169.4 L596.9 170.0 L598.9 170.6 L601.0 171.2 L603.0 171.8 L605.1 172.4 L607.1 173.1 L609.1 173.7 L611.2 174.4 L613.2 175.0 L615.3 175.7 L617.3 176.4 L619.3 177.0 L621.4 177.7 L623.4 178.4 L625.4 179.1 L627.4 179.8 L629.4 180.6 L631.4 181.3 L633.4 182.0 L635.5 182.8 L637.5 183.6 L639.4 184.4 L641.4 185.1 L643.4 185.9 L645.4 186.8 L647.4 187.6 L649.3 188.4 L651.3 189.3 L653.2 190.2 L655.2 191.1 L657.1 192.0 L659.1 192.9 L661.0 193.9 L662.9 194.9 L664.8 195.8 L666.7 196.9 L668.5 197.9 L670.4 199.0 L672.2 200.1 L674.1 201.2 L675.9 202.3 L677.6 203.5 L679.4 204.7 L681.2 206.0 L682.9 207.2 L684.6 208.6 L686.2 209.9 L687.9 211.3 L689.5 212.7 L691.0 214.1 L692.6 215.6 L694.1 217.2 L695.6 218.7 L697.0 220.3 L698.4 221.9 L699.7 223.6 L701.0 225.3 L702.3 227.0 L703.6 228.7 L704.8 230.5 L705.9 232.3 L707.0 234.1 L708.1 236.0 L709.2 237.9 L710.2 239.7 L711.2 241.6 L712.1 243.6 L713.0 245.5 L713.9 247.4 L714.8 249.4 L715.6 251.4 L716.4 253.4 L717.2 255.4 L718.0 257.4 L718.7 259.4 L719.4 261.4 L720.1 263.4 L720.8 265.5 L721.4 267.5 L722.0 269.5 L722.6 271.6 L723.2 273.7 L723.8 275.7 L724.4 277.8 L724.9 279.8 L725.5 281.9 L726.0 284.0 L726.5 286.1 L727.0 288.2 L727.5 290.2 L727.9 292.3 L728.4 294.4 L728.9 296.5 L729.3 298.6 L729.7 300.7 L730.1 302.8 L730.6 304.9" stroke="#ff0000" stroke-width="2.55" stroke-dasharray="6 6"/>
<path d="M465.7 149.8 L467.5 150.2 L469.4 150.5 L471.2 150.9 L473.1 151.3 L474.9 151.7 L476.8 152.1 L478.6 152.5 L480.4 152.9 L482.3 153.3 L484.1 153.7 L486.0 154.1 L487.8 154.5 L489.6 154.9 L491.5 155.3 L493.3 155.7 L495.1 156.1 L497.0 156.6 L498.8 157.0 L500.7 157.4 L502.5 157.8 L504.3 158.3 L506.2 158.7 L508.0 159.1 L509.8 159.6 L511.6 160.0 L513.5 160.5 L515.3 160.9 L517.1 161.4 L519.0 161.8 L520.8 162.3 L522.6 162.8 L524.4 163.2 L526.3 163.7 L528.1 164.2 L529.9 164.7 L531.7 165.2 L533.5 165.7 L535.3 166.2 L537.2 166.7 L539.0 167.2 L540.8 167.7 L542.6 168.2 L544.4 168.7 L546.2 169.2 L548.0 169.8 L549.8 170.3 L551.6 170.9 L553.4 171.4 L555.2 172.0 L557.0 172.5 L558.8 173.1 L560.6 173.7 L562.4 174.3 L564.2 174.9 L566.0 175.5 L567.7 176.1 L569.5 176.7 L571.3 177.3 L573.1 178.0 L574.8 178.6 L576.6 179.2 L578.4 179.9 L580.1 180.6 L581.9 181.2 L583.7 181.9 L585.4 182.6 L587.2 183.3 L588.9 184.0 L590.6 184.7 L592.4 185.5 L594.1 186.2 L595.8 186.9 L597.6 187.7 L599.3 188.5 L601.0 189.3 L602.7 190.0 L604.4 190.8 L606.1 191.7 L607.8 192.5 L609.5 193.3 L611.2 194.2 L612.8 195.0 L614.5 195.9 L616.2 196.8 L617.8 197.7 L619.5 198.6 L621.1 199.5 L622.8 200.4 L624.4 201.4 L626.0 202.3 L627.6 203.3 L629.2 204.3 L630.8 205.2 L632.4 206.3 L634.0 207.3 L635.6 208.3 L637.2 209.4 L638.7 210.4 L640.3 211.5 L641.8 212.6 L643.3 213.7 L644.8 214.8 L646.4 215.9 L647.9 217.1 L649.3 218.2 L650.8 219.4 L652.3 220.6 L653.7 221.8 L655.2 223.0 L656.6 224.2 L658.0 225.5 L659.4 226.7 L660.8 228.0 L662.1 229.3 L663.5 230.6 L664.8 232.0 L666.1 233.3 L667.4 234.7 L668.7 236.1 L669.9 237.5 L671.1 239.0 L672.3 240.4 L673.5 241.9 L674.6 243.4 L675.7 244.9 L676.8 246.5 L677.8 248.0 L678.8 249.6 L679.8 251.2 L680.7 252.9 L681.7 254.5 L682.5 256.2 L683.4 257.9 L684.2 259.6 L684.9 261.3 L685.7 263.0 L686.4 264.8 L687.1 266.5 L687.7 268.3 L688.4 270.1 L689.0 271.8 L689.5 273.6 L690.1 275.4 L690.6 277.2 L691.1 279.1 L691.6 280.9 L692.1 282.7 L692.6 284.5 L693.0 286.4 L693.4 288.2 L693.8 290.0 L694.2 291.9 L694.6 293.7 L695.0 295.6 L695.3 297.4 L695.7 299.3 L696.0 301.1 L696.3 303.0 L696.6 304.8" stroke="#008000" stroke-width="2.30" stroke-dasharray="3 5 1 5"/>
<path d="M465.7 157.0 L467.6 157.4 L469.6 157.8 L471.5 158.2 L473.5 158.7 L475.4 159.1 L477.4 159.5 L479.3 160.0 L481.3 160.4 L483.2 160.8 L485.2 161.3 L487.1 161.7 L489.1 162.1 L491.0 162.6 L493.0 163.0 L494.9 163.4 L496.8 163.9 L498.8 164.3 L500.7 164.8 L502.7 165.2 L504.6 165.7 L506.6 166.1 L508.5 166.6 L510.4 167.0 L512.4 167.5 L514.3 167.9 L516.3 168.4 L518.2 168.9 L520.1 169.3 L522.1 169.8 L524.0 170.3 L526.0 170.7 L527.9 171.2 L529.8 171.7 L531.8 172.2 L533.7 172.6 L535.6 173.1 L537.6 173.6 L539.5 174.1 L541.4 174.6 L543.4 175.1 L545.3 175.6 L547.2 176.1 L549.1 176.6 L551.1 177.1 L553.0 177.6 L554.9 178.1 L556.9 178.7 L558.8 179.2 L560.7 179.7 L562.6 180.2 L564.5 180.8 L566.5 181.3 L568.4 181.9 L570.3 182.4 L572.2 183.0 L574.1 183.5 L576.0 184.1 L577.9 184.7 L579.9 185.2 L581.8 185.8 L583.7 186.4 L585.6 187.0 L587.5 187.6 L589.4 188.2 L591.3 188.8 L593.2 189.5 L595.0 190.1 L596.9 190.7 L598.8 191.4 L600.7 192.0 L602.6 192.7 L604.5 193.3 L606.3 194.0 L608.2 194.7 L610.1 195.4 L612.0 196.1 L613.8 196.8 L615.7 197.5 L617.5 198.2 L619.4 199.0 L621.2 199.7 L623.1 200.5 L624.9 201.2 L626.8 202.0 L628.6 202.8 L630.4 203.6 L632.2 204.4 L634.1 205.2 L635.9 206.1 L637.7 206.9 L639.5 207.8 L641.3 208.7 L643.1 209.5 L644.8 210.4 L646.6 211.3 L648.4 212.3 L650.1 213.2 L651.9 214.2 L653.6 215.1 L655.4 216.1 L657.1 217.1 L658.8 218.1 L660.5 219.1 L662.2 220.2 L663.9 221.2 L665.6 222.3 L667.3 223.4 L668.9 224.5 L670.6 225.6 L672.2 226.7 L673.9 227.8 L675.5 229.0 L677.1 230.2 L678.7 231.4 L680.3 232.6 L681.9 233.8 L683.4 235.0 L685.0 236.3 L686.5 237.5 L688.1 238.8 L689.6 240.1 L691.1 241.5 L692.5 242.8 L694.0 244.1 L695.4 245.5 L696.9 246.9 L698.3 248.3 L699.7 249.8 L701.0 251.2 L702.4 252.7 L703.7 254.2 L705.0 255.7 L706.2 257.3 L707.5 258.8 L708.6 260.4 L709.8 262.1 L710.9 263.7 L712.0 265.4 L713.0 267.1 L714.0 268.8 L714.9 270.6 L715.8 272.4 L716.7 274.2 L717.5 276.0 L718.3 277.8 L719.0 279.7 L719.7 281.5 L720.4 283.4 L721.0 285.3 L721.6 287.2 L722.2 289.1 L722.7 291.1 L723.2 293.0 L723.7 294.9 L724.2 296.9 L724.6 298.8 L725.0 300.7 L725.4 302.7 L725.8 304.7" stroke="#008000" stroke-width="2.55"/>
<path d="M465.7 155.4 L467.8 155.8 L469.8 156.1 L471.9 156.5 L474.0 156.9 L476.0 157.2 L478.1 157.6 L480.2 158.0 L482.2 158.3 L484.3 158.7 L486.4 159.1 L488.4 159.5 L490.5 159.9 L492.6 160.3 L494.6 160.6 L496.7 161.0 L498.8 161.4 L500.8 161.8 L502.9 162.3 L504.9 162.7 L507.0 163.1 L509.0 163.5 L511.1 163.9 L513.2 164.3 L515.2 164.8 L517.3 165.2 L519.3 165.6 L521.4 166.0 L523.4 166.5 L525.5 166.9 L527.5 167.4 L529.6 167.8 L531.6 168.3 L533.7 168.7 L535.7 169.2 L537.8 169.6 L539.8 170.1 L541.9 170.5 L543.9 171.0 L546.0 171.5 L548.0 171.9 L550.1 172.4 L552.1 172.9 L554.2 173.4 L556.2 173.8 L558.3 174.3 L560.3 174.8 L562.3 175.3 L564.4 175.8 L566.4 176.3 L568.5 176.8 L570.5 177.3 L572.5 177.8 L574.6 178.3 L576.6 178.8 L578.6 179.3 L580.7 179.8 L582.7 180.3 L584.8 180.9 L586.8 181.4 L588.8 181.9 L590.8 182.4 L592.9 183.0 L594.9 183.5 L596.9 184.1 L599.0 184.6 L601.0 185.1 L603.0 185.7 L605.0 186.3 L607.1 186.8 L609.1 187.4 L611.1 187.9 L613.1 188.5 L615.2 189.1 L617.2 189.7 L619.2 190.3 L621.2 190.8 L623.2 191.4 L625.2 192.0 L627.2 192.7 L629.2 193.3 L631.2 193.9 L633.2 194.5 L635.2 195.2 L637.2 195.8 L639.2 196.5 L641.2 197.1 L643.2 197.8 L645.2 198.5 L647.2 199.2 L649.2 199.9 L651.1 200.6 L653.1 201.3 L655.1 202.1 L657.0 202.9 L659.0 203.6 L660.9 204.5 L662.8 205.3 L664.8 206.1 L666.7 207.0 L668.6 207.9 L670.5 208.8 L672.4 209.7 L674.2 210.7 L676.1 211.6 L677.9 212.7 L679.7 213.7 L681.5 214.8 L683.3 215.9 L685.1 217.0 L686.8 218.2 L688.5 219.4 L690.2 220.7 L691.9 221.9 L693.5 223.2 L695.1 224.6 L696.7 226.0 L698.3 227.4 L699.8 228.9 L701.3 230.3 L702.7 231.9 L704.1 233.4 L705.5 235.0 L706.9 236.6 L708.2 238.2 L709.4 239.9 L710.7 241.6 L711.9 243.3 L713.1 245.0 L714.2 246.8 L715.4 248.6 L716.4 250.4 L717.5 252.2 L718.5 254.0 L719.5 255.9 L720.5 257.7 L721.4 259.6 L722.4 261.5 L723.3 263.4 L724.1 265.3 L725.0 267.2 L725.8 269.1 L726.6 271.1 L727.4 273.0 L728.2 275.0 L728.9 276.9 L729.7 278.9 L730.4 280.9 L731.1 282.9 L731.8 284.8 L732.4 286.8 L733.1 288.8 L733.7 290.8 L734.3 292.8 L734.9 294.8 L735.5 296.9 L736.1 298.9 L736.7 300.9 L737.3 302.9 L737.8 304.9" stroke="#008000" stroke-width="2.55" stroke-dasharray="6 6"/>
</g>
<g clip-path="url(#c3)" fill="none" stroke-linejoin="round">
<path d="M312.0 415.7 L313.0 415.7 L314.0 415.7 L315.0 415.7 L316.0 415.7 L317.0 415.7 L318.0 415.8 L319.1 415.8 L320.1 415.9 L321.0 416.1 L322.0 416.3 L322.9 416.6 L323.8 417.0 L324.7 417.5 L325.5 418.1 L326.4 418.6 L327.2 419.2 L328.0 419.8 L328.9 420.4 L329.6 421.0 L330.4 421.6 L331.0 422.3 L331.7 423.1 L332.2 423.9 L332.8 424.7 L333.3 425.6 L333.8 426.5 L334.4 427.4 L334.9 428.3 L335.4 429.1 L335.9 430.0 L336.4 430.9 L336.9 431.8 L337.5 432.6 L338.0 433.5 L338.6 434.3 L339.2 435.1 L339.8 435.9 L340.5 436.6 L341.2 437.3 L342.0 437.9 L342.8 438.4 L343.7 438.7 L344.6 438.9 L345.5 438.9 L346.3 438.6 L347.2 438.2 L348.0 437.6 L348.7 437.0 L349.4 436.2 L350.0 435.5 L350.7 434.7 L351.3 433.9 L352.0 433.1 L352.6 432.3 L353.2 431.5 L353.9 430.8 L354.5 430.0 L355.2 429.2 L355.8 428.5 L356.5 427.7 L357.2 426.9 L357.8 426.1 L358.5 425.4 L359.1 424.6 L359.8 423.8 L360.4 423.0 L361.1 422.2 L361.8 421.5 L362.5 420.8 L363.2 420.2 L364.0 419.6 L364.8 419.0 L365.7 418.4 L366.5 417.9 L367.4 417.4 L368.4 417.0 L369.3 416.7 L370.3 416.5 L371.2 416.3 L372.2 416.2 L373.2 416.1 L374.2 416.1 L375.2 416.0 L376.2 416.0 L377.2 416.0 L378.3 415.9 L379.3 415.9 L380.3 415.9 L381.3 415.9 L382.3 415.9 L383.3 415.9 L384.3 415.9 L385.3 415.9 L386.3 415.9 L387.3 415.9 L388.3 415.9 L389.4 415.9 L390.4 415.9 L391.4 415.9 L392.4 415.9 L393.4 415.9 L394.4 415.9 L395.4 415.9 L396.4 415.9 L397.4 415.9 L398.4 415.9 L399.4 415.9 L400.4 415.9 L401.4 415.9 L402.4 415.9 L403.4 415.9 L404.5 415.9 L405.5 415.9 L406.5 415.9 L407.5 415.9 L408.5 415.9 L409.5 415.9 L410.5 415.9 L411.5 415.9 L412.0 415.9" stroke="#000000" stroke-width="2.55" stroke-dasharray="6 6"/>
<path d="M57.0 423.1 L58.0 423.1 L59.0 423.2 L60.0 423.2 L61.0 423.3 L62.0 423.3 L63.0 423.3 L64.1 423.4 L65.1 423.4 L66.1 423.5 L67.1 423.5 L68.1 423.6 L69.1 423.6 L70.1 423.6 L71.1 423.7 L72.1 423.7 L73.1 423.8 L74.1 423.8 L75.1 423.9 L76.1 423.9 L77.1 423.9 L78.2 424.0 L79.2 424.0 L80.2 424.1 L81.2 424.1 L82.2 424.2 L83.2 424.2 L84.2 424.3 L85.2 424.3 L86.2 424.4 L87.2 424.4 L88.2 424.5 L89.2 424.5 L90.2 424.6 L91.2 424.6 L92.3 424.7 L93.3 424.7 L94.3 424.8 L95.3 424.8 L96.3 424.9 L97.3 424.9 L98.3 424.9 L99.3 425.0 L100.3 425.0 L101.3 425.0 L102.3 425.1 L103.3 425.1 L104.3 425.1 L105.3 425.0 L106.3 425.0 L107.3 425.0 L108.3 424.9 L109.3 424.8 L110.3 424.7 L111.3 424.5 L112.3 424.3 L113.2 424.1 L114.2 423.8 L115.1 423.5 L116.0 423.2 L117.0 422.9 L117.9 422.5 L118.8 422.1 L119.7 421.7 L120.7 421.2 L121.6 420.8 L122.5 420.4 L123.4 420.0 L124.3 419.6 L125.3 419.2 L126.2 418.9 L127.2 418.5 L128.1 418.2 L129.1 417.9 L130.0 417.7 L131.0 417.4 L132.0 417.2 L133.0 417.0 L133.9 416.8 L134.9 416.6 L135.9 416.5 L136.9 416.4 L137.9 416.3 L138.9 416.2 L139.9 416.1 L140.9 416.0 L141.9 415.9 L142.9 415.9 L144.0 415.9 L145.0 415.8 L146.0 415.8 L147.0 415.8 L148.0 415.7 L149.0 415.7 L150.0 415.7" stroke="#0000ff" stroke-width="2.55" stroke-dasharray="6 6" stroke-dashoffset="1"/>
<path d="M300.0 415.7 L302.6 415.9 L305.0 416.3 L307.3 417.0 L309.4 418.2 L311.2 419.9 L312.9 421.8 L314.3 423.8 L315.6 426.0 L316.7 428.2 L317.7 430.5 L318.6 432.9 L319.5 435.2 L320.3 437.6 L321.2 440.0 L322.0 442.3 L322.6 444.7 L323.2 447.2 L323.7 449.6 L324.2 452.1 L324.7 454.5 L325.1 457.0 L325.5 459.5 L325.8 462.0 L326.2 464.5 L326.5 466.9 L326.8 469.4 L327.0 471.9 L327.3 474.4 L327.5 476.9 L327.7 479.4 L328.0 481.9 L328.2 484.4 L328.4 486.9 L328.6 489.4 L328.8 491.9 L329.0 494.4 L329.2 496.9 L329.4 499.4 L329.7 501.9 L329.9 504.4 L330.1 506.9 L330.3 509.4 L330.5 511.9 L330.8 514.4 L331.1 516.9 L331.5 519.3 L332.0 521.8 L332.5 524.2 L333.0 526.6 L333.3 529.1 L333.5 531.6 L333.7 534.1 L333.9 536.6 L334.1 539.1 L334.3 541.6 L334.4 544.1 L334.6 546.6 L334.9 549.1 L335.2 551.6 L335.6 554.1 L336.1 556.6 L336.9 558.9 L338.0 560.8 L339.3 561.2 L340.6 560.0 L341.5 557.9 L342.2 555.5 L342.8 553.0 L343.4 550.6 L344.0 548.1 L344.6 545.7 L345.3 543.3 L345.9 540.9 L346.5 538.4 L347.1 536.0 L347.7 533.6 L348.2 531.1 L348.7 528.7 L349.2 526.2 L349.6 523.7 L350.0 521.3 L350.5 518.8 L350.9 516.3 L351.3 513.9 L351.7 511.4 L352.2 508.9 L352.6 506.5 L353.1 504.0 L353.6 501.5 L354.0 499.1 L354.5 496.6 L355.0 494.2 L355.5 491.7 L356.0 489.3 L356.5 486.8 L357.0 484.4 L357.5 481.9 L358.0 479.4 L358.5 477.0 L359.0 474.5 L359.5 472.1 L360.0 469.6 L360.5 467.2 L361.0 464.7 L361.5 462.3 L362.1 459.8 L362.6 457.4 L363.1 454.9 L363.6 452.5 L364.2 450.0 L364.8 447.6 L365.4 445.2 L366.1 442.7 L366.8 440.3 L367.5 437.8 L368.3 435.4 L369.2 433.1 L370.2 430.9 L371.4 428.6 L372.8 426.4 L374.4 424.4 L376.2 422.7 L378.2 421.5 L380.4 420.8 L382.8 420.3 L385.4 419.9 L388.0 419.8 L390.5 419.8 L393.0 419.9 L395.5 420.0 L398.0 420.2 L400.5 420.3 L403.0 420.4 L405.5 420.6 L408.0 420.7 L410.5 420.8 L412.0 420.9" stroke="#0000ff" stroke-width="2.55" stroke-dasharray="6 6"/>
<path d="M57.0 456.0 L60.0 456.5 L62.9 456.9 L65.9 457.4 L68.9 457.9 L71.8 458.4 L74.8 459.0 L77.7 459.5 L80.7 460.1 L83.6 460.7 L86.6 461.3 L89.5 461.9 L92.4 462.5 L95.4 463.1 L98.3 463.7 L101.3 464.2 L104.3 464.7 L107.2 465.2 L110.2 465.7 L113.2 466.0 L116.2 466.2 L119.2 466.3 L122.2 466.2 L125.1 466.1 L128.1 465.8 L131.1 465.5 L134.1 465.2 L137.1 464.8 L140.1 464.4 L143.1 464.0 L146.0 463.6 L149.0 463.1 L151.9 462.5 L154.9 461.9 L157.8 461.3 L160.8 460.7 L163.7 460.1 L166.6 459.4 L169.5 458.6 L172.5 457.9 L175.4 457.1 L178.2 456.3 L181.1 455.4 L184.0 454.5 L186.8 453.6 L189.7 452.6 L192.5 451.6 L195.3 450.5 L198.1 449.4 L200.9 448.2 L203.7 447.0 L206.4 445.8 L209.1 444.5 L211.8 443.2 L214.4 441.8 L217.0 440.2 L219.4 438.5 L221.7 436.6 L224.0 434.7 L226.3 432.7 L228.7 430.8 L231.1 429.1 L233.6 427.5 L236.3 426.0 L238.9 424.7 L241.7 423.5 L244.5 422.7 L247.4 422.1 L250.3 421.9 L253.3 422.2 L256.1 422.8 L259.0 423.7 L261.7 424.9 L264.4 426.3 L267.0 427.8 L269.5 429.4 L272.0 431.1 L274.4 432.9 L276.8 434.7 L279.2 436.5 L281.5 438.4 L283.8 440.4 L286.1 442.3 L288.4 444.3 L290.7 446.2 L292.9 448.3 L295.1 450.3 L297.2 452.5 L299.2 454.7 L301.1 457.0 L302.9 459.5 L304.4 462.0 L305.8 464.6 L307.0 467.4 L308.0 470.2 L308.9 473.0 L309.8 475.9 L310.6 478.8 L311.4 481.7 L312.1 484.6 L312.7 487.6 L313.3 490.5 L313.8 493.5 L314.3 496.4 L314.7 499.4 L315.2 502.4 L315.6 505.3 L316.0 508.3 L316.3 511.3 L316.7 514.3 L317.0 517.3 L317.4 520.3 L317.7 523.2 L318.0 526.2 L318.3 529.2 L318.6 532.2 L318.9 535.2 L319.2 538.2 L319.5 541.2 L319.7 544.2 L320.0 547.2 L320.3 550.2 L320.6 553.2 L320.8 556.1 L321.1 559.1 L321.3 562.1 L321.6 565.1 L321.8 568.1 L322.1 571.1 L322.3 574.1 L322.6 577.1 L322.8 580.1 L323.0 583.1 L323.3 586.1 L323.5 589.1 L323.7 592.1 L324.0 595.1 L324.2 598.1 L324.4 601.1 L324.7 604.1 L324.9 607.0 L325.1 610.0 L325.3 613.0 L325.6 616.0 L325.8 619.0 L326.0 622.0 L326.2 625.0 L326.4 628.0 L326.6 631.0 L326.9 634.0 L327.1 637.0 L327.3 640.0 L327.5 643.0 L327.6 645.0" stroke="#ff0000" stroke-width="2.55" stroke-dasharray="6 6" stroke-dashoffset="1.5"/>
<path d="M353.6 645.0 L353.7 643.5 L353.8 642.0 L353.9 640.5 L354.1 639.0 L354.2 637.5 L354.3 636.0 L354.5 634.5 L354.6 633.0 L354.8 631.5 L355.0 630.0 L355.1 628.5 L355.3 627.0 L355.5 625.5 L355.7 624.0 L355.9 622.6 L356.1 621.1 L356.3 619.6 L356.5 618.1 L356.7 616.6 L356.9 615.1 L357.1 613.6 L357.3 612.1 L357.5 610.6 L357.7 609.1 L357.9 607.6 L358.1 606.1 L358.3 604.7 L358.5 603.2 L358.7 601.7 L358.9 600.2 L359.1 598.7 L359.3 597.2 L359.5 595.7 L359.7 594.2 L359.9 592.7 L360.1 591.2 L360.3 589.7 L360.5 588.2 L360.7 586.8 L360.9 585.3 L361.1 583.8 L361.3 582.3 L361.5 580.8 L361.7 579.3 L361.9 577.8 L362.1 576.3 L362.3 574.8 L362.5 573.3 L362.7 571.8 L362.9 570.3 L363.1 568.9 L363.3 567.4 L363.5 565.9 L363.7 564.4 L363.9 562.9 L364.1 561.4 L364.3 559.9 L364.5 558.4 L364.8 556.9 L365.0 555.4 L365.2 554.0 L365.4 552.5 L365.6 551.0 L365.8 549.5 L366.0 548.0 L366.2 546.5 L366.5 545.0 L366.7 543.5 L366.9 542.0 L367.1 540.5 L367.3 539.1 L367.5 537.6 L367.8 536.1 L368.0 534.6 L368.2 533.1 L368.4 531.6 L368.6 530.1 L368.8 528.6 L369.1 527.1 L369.3 525.7 L369.5 524.2 L369.7 522.7 L369.9 521.2 L370.2 519.7 L370.4 518.2 L370.6 516.7 L370.8 515.2 L371.1 513.7 L371.3 512.3 L371.5 510.8 L371.8 509.3 L372.0 507.8 L372.3 506.3 L372.5 504.8 L372.8 503.4 L373.1 501.9 L373.3 500.4 L373.6 498.9 L373.9 497.4 L374.2 496.0 L374.5 494.5 L374.7 493.0 L375.0 491.5 L375.4 490.1 L375.7 488.6 L376.0 487.1 L376.3 485.6 L376.6 484.2 L377.0 482.7 L377.3 481.2 L377.6 479.8 L378.0 478.3 L378.4 476.8 L378.7 475.4 L379.1 473.9 L379.5 472.5 L380.0 471.0 L380.4 469.6 L380.9 468.1 L381.4 466.7 L382.0 465.3 L382.6 463.9 L383.2 462.6 L383.9 461.3 L384.7 460.1 L385.6 459.0 L386.6 458.0 L387.7 457.1 L388.8 456.4 L390.0 455.9 L391.3 455.6 L392.6 455.5 L393.9 455.6 L395.3 455.8 L396.6 456.3 L398.0 456.8 L399.3 457.5 L400.6 458.3 L401.8 459.1 L403.0 460.0 L404.2 460.9 L405.4 461.8 L406.5 462.8 L407.6 463.8 L408.7 464.9 L409.8 465.9 L410.9 466.9 L412.0 468.0" stroke="#ff0000" stroke-width="2.55" stroke-dasharray="6 6"/>
<path d="M57.0 415.7 L59.0 415.7 L61.0 415.7 L63.0 415.7 L65.0 415.7 L67.0 415.7 L69.0 415.7 L71.0 415.7 L73.0 415.7 L75.0 415.7 L77.0 415.7 L79.0 415.7 L81.0 415.7 L83.1 415.7 L85.1 415.7 L87.1 415.7 L89.1 415.7 L91.1 415.7 L93.1 415.7 L95.1 415.7 L97.1 415.7 L99.1 415.7 L101.1 415.7 L103.1 415.7 L105.1 415.7 L107.1 415.7 L109.1 415.7 L111.1 415.7 L113.1 415.7 L115.1 415.7 L117.1 415.7 L119.1 415.7 L121.1 415.7 L123.1 415.7 L125.1 415.7 L127.1 415.7 L129.1 415.7 L131.1 415.7 L133.2 415.7 L135.2 415.7 L137.2 415.7 L139.2 415.7 L141.2 415.7 L143.2 415.7 L145.2 415.7 L147.2 415.7 L149.2 415.7 L151.2 415.7 L153.2 415.7 L155.2 415.7 L157.2 415.7 L159.2 415.7 L161.2 415.7 L163.2 415.7 L165.2 415.7 L167.2 415.7 L169.2 415.7 L171.2 415.7 L173.2 415.7 L175.2 415.7 L177.2 415.7 L179.2 415.7 L181.2 415.7 L183.2 415.7 L185.2 415.7 L187.3 415.7 L189.3 415.7 L191.3 415.7 L193.3 415.7 L195.3 415.7 L197.3 415.7 L199.3 415.7 L201.3 415.7 L203.3 415.7 L205.3 415.7 L207.3 415.7 L209.3 415.7 L211.3 415.7 L213.3 415.7 L215.3 415.7 L217.3 415.7 L219.3 415.7 L221.3 415.7 L223.3 415.7 L225.3 415.7 L227.3 415.7 L229.3 415.7 L231.3 415.7 L233.3 415.7 L235.3 415.7 L237.3 415.7 L239.3 415.7 L241.3 415.7 L243.4 415.7 L245.4 415.7 L247.4 415.7 L249.4 415.7 L251.4 415.7 L253.4 415.7 L255.4 415.7 L257.4 415.7 L259.4 415.7 L261.4 415.7 L263.4 415.7 L265.4 415.7 L267.4 415.7 L269.4 415.7 L271.4 415.7 L273.4 415.7 L275.4 415.7 L277.4 415.7 L279.4 415.7 L281.4 415.7 L283.4 415.7 L285.4 415.7 L287.4 415.7 L289.4 415.7 L291.4 415.7 L293.4 415.7 L295.4 415.7 L297.4 415.7 L299.4 415.7 L301.5 415.7 L303.5 415.7 L305.5 415.6 L307.5 415.6 L309.5 415.5 L311.5 415.5 L313.5 415.4 L315.5 415.2 L317.5 415.0 L319.4 414.7 L321.4 414.2 L323.2 413.4 L325.0 412.4 L326.5 411.2 L327.9 409.7 L329.0 408.1 L329.8 406.8 L329.8 645.0" stroke="#000000" stroke-width="2.55"/>
<path d="M57.0 415.7 L59.0 415.7 L61.0 415.7 L63.0 415.7 L65.0 415.7 L67.0 415.7 L69.0 415.7 L71.0 415.7 L73.0 415.7 L75.0 415.7 L77.1 415.7 L79.1 415.7 L81.1 415.7 L83.1 415.7 L85.1 415.7 L87.1 415.7 L89.1 415.7 L91.1 415.7 L93.1 415.7 L95.1 415.7 L97.1 415.7 L99.1 415.7 L101.1 415.7 L103.1 415.7 L105.1 415.7 L107.1 415.7 L109.1 415.7 L111.1 415.7 L113.1 415.7 L115.1 415.7 L117.2 415.7 L119.2 415.7 L121.2 415.7 L123.2 415.7 L125.2 415.7 L127.2 415.7 L129.2 415.7 L131.2 415.7 L133.2 415.7 L135.2 415.7 L137.2 415.7 L139.2 415.7 L141.2 415.7 L143.2 415.7 L145.2 415.7 L147.2 415.7 L149.2 415.7 L151.2 415.7 L153.2 415.7 L155.2 415.7 L157.2 415.7 L159.2 415.7 L161.2 415.7 L163.2 415.7 L165.3 415.7 L167.3 415.7 L169.3 415.7 L171.3 415.7 L173.3 415.7 L175.3 415.7 L177.3 415.7 L179.3 415.7 L181.3 415.7 L183.3 415.7 L185.3 415.7 L187.3 415.7 L189.3 415.7 L191.3 415.7 L193.3 415.7 L195.3 415.7 L197.3 415.7 L199.3 415.7 L201.3 415.7 L203.3 415.7 L205.3 415.7 L207.3 415.7 L209.3 415.7 L211.3 415.7 L213.3 415.7 L215.3 415.7 L217.3 415.7 L219.3 415.7 L221.4 415.7 L223.4 415.7 L225.4 415.7 L227.4 415.7 L229.4 415.7 L231.4 415.7 L233.4 415.7 L235.4 415.7 L237.4 415.7 L239.4 415.7 L241.4 415.7 L243.4 415.7 L245.4 415.7 L247.4 415.7 L249.4 415.7 L251.4 415.7 L253.4 415.7 L255.4 415.7 L257.4 415.7 L259.4 415.7 L261.4 415.7 L263.4 415.7 L265.4 415.7 L267.4 415.7 L269.4 415.7 L271.4 415.7 L273.4 415.7 L275.4 415.7 L277.4 415.7 L279.4 415.7 L281.4 415.7 L283.4 415.7 L285.4 415.7 L287.5 415.7 L289.5 415.6 L291.5 415.5 L293.5 415.4 L295.5 415.3 L297.5 415.1 L299.5 414.8 L301.5 414.4 L303.3 413.8 L305.0 412.8 L306.4 411.4 L307.6 409.8 L308.7 408.1 L309.6 406.3 L310.2 404.4 L310.4 403.9 L310.4 645.0" stroke="#0000ff" stroke-width="2.55"/>
<path d="M57.0 415.7 L58.5 415.7 L60.0 415.7 L61.5 415.7 L63.0 415.7 L64.5 415.7 L66.0 415.7 L67.5 415.7 L69.1 415.7 L70.6 415.7 L72.1 415.7 L73.6 415.7 L75.1 415.7 L76.6 415.7 L78.1 415.7 L79.6 415.7 L81.1 415.7 L82.6 415.7 L84.1 415.7 L85.6 415.7 L87.1 415.7 L88.6 415.7 L90.1 415.7 L91.6 415.7 L93.1 415.7 L94.6 415.7 L96.2 415.7 L97.7 415.7 L99.2 415.7 L100.7 415.7 L102.2 415.7 L103.7 415.7 L105.2 415.7 L106.7 415.7 L108.2 415.7 L109.7 415.7 L111.2 415.7 L112.7 415.7 L114.2 415.7 L115.7 415.7 L117.2 415.7 L118.7 415.7 L120.2 415.7 L121.7 415.7 L123.2 415.7 L124.7 415.7 L126.3 415.7 L127.8 415.7 L129.3 415.7 L130.8 415.7 L132.3 415.7 L133.8 415.7 L135.3 415.7 L136.8 415.7 L138.3 415.7 L139.8 415.7 L141.3 415.7 L142.8 415.7 L144.3 415.7 L145.8 415.7 L147.3 415.7 L148.8 415.7 L150.3 415.7 L151.8 415.7 L153.3 415.7 L154.8 415.7 L156.3 415.7 L157.8 415.7 L159.3 415.7 L160.8 415.7 L162.4 415.7 L163.9 415.7 L165.4 415.7 L166.9 415.7 L168.4 415.7 L169.9 415.7 L171.4 415.7 L172.9 415.7 L174.4 415.7 L175.9 415.7 L177.4 415.7 L178.9 415.7 L180.4 415.7 L181.9 415.7 L183.4 415.7 L184.9 415.7 L186.4 415.7 L187.9 415.7 L189.4 415.7 L190.9 415.7 L192.4 415.7 L193.9 415.7 L195.4 415.7 L196.9 415.7 L198.4 415.7 L199.9 415.7 L201.4 415.7 L202.9 415.7 L204.4 415.7 L205.9 415.7 L207.5 415.7 L209.0 415.7 L210.5 415.7 L212.0 415.7 L213.5 415.7 L215.0 415.7 L216.5 415.7 L218.0 415.7 L219.5 415.7 L221.0 415.7 L222.5 415.7 L224.0 415.7 L225.5 415.7 L227.0 415.7 L228.5 415.7 L230.0 415.7 L231.5 415.7 L233.0 415.7 L234.5 415.7 L236.0 415.7 L237.5 415.7 L239.0 415.7 L240.5 415.7 L242.0 415.7 L243.5 415.7 L245.0 415.7 L246.5 415.7 L248.0 415.7 L249.5 415.7 L251.0 415.7 L252.5 415.6 L254.0 415.6 L255.5 415.5 L257.0 415.4 L258.5 415.3 L260.0 415.2 L261.5 415.0 L263.0 414.9 L264.5 414.7 L266.0 414.4 L267.5 414.1 L269.0 413.8 L270.4 413.5 L271.9 413.1 L273.4 412.8 L274.8 412.3 L276.2 411.9 L277.6 411.4 L279.0 410.8 L280.4 410.1 L281.7 409.4 L283.0 408.6 L284.2 407.8 L285.4 406.8 L286.5 405.8 L287.5 404.7 L288.1 403.9 L288.1 645.0" stroke="#ff0000" stroke-width="2.55"/>
</g>
<g clip-path="url(#c4)" fill="none" stroke-linejoin="round">
<path d="M466.0 529.6 L468.0 529.5 L470.0 529.5 L472.0 529.4 L474.0 529.3 L476.0 529.2 L478.0 529.2 L480.0 529.1 L482.0 529.0 L484.0 529.0 L486.0 528.9 L488.0 528.8 L490.1 528.8 L492.1 528.7 L494.1 528.7 L496.1 528.6 L498.1 528.5 L500.1 528.5 L502.1 528.4 L504.1 528.4 L506.1 528.3 L508.1 528.3 L510.1 528.2 L512.1 528.1 L514.1 528.1 L516.1 528.0 L518.1 528.0 L520.1 527.9 L522.1 527.9 L524.1 527.8 L526.1 527.7 L528.1 527.7 L530.1 527.6 L532.1 527.6 L534.2 527.5 L536.2 527.5 L538.2 527.4 L540.2 527.4 L542.2 527.3 L544.2 527.3 L546.2 527.3 L548.2 527.2 L550.2 527.2 L552.2 527.2 L554.2 527.1 L556.2 527.1 L558.2 527.1 L560.2 527.1 L562.2 527.1 L564.2 527.1 L566.2 527.2 L568.2 527.2 L570.2 527.2 L572.3 527.2 L574.3 527.3 L576.3 527.3 L578.3 527.4 L580.3 527.5 L582.3 527.5 L584.3 527.6 L586.3 527.7 L588.3 527.8 L590.3 528.0 L592.3 528.2 L594.3 528.4 L596.3 528.6 L598.3 528.8 L600.2 529.1 L602.2 529.4 L604.2 529.7 L606.2 530.0 L608.2 530.3 L610.2 530.6 L612.1 531.0 L614.1 531.4 L616.1 531.8 L618.0 532.2 L620.0 532.7 L621.9 533.2 L623.8 533.7 L625.8 534.3 L627.7 534.9 L629.6 535.5 L631.5 536.1 L633.4 536.8 L635.3 537.5 L637.1 538.2 L639.0 538.9 L640.9 539.7 L642.7 540.4 L644.6 541.2 L646.4 542.1 L648.2 542.9 L650.0 543.8 L651.8 544.7 L653.6 545.6 L655.3 546.6 L657.1 547.5 L658.8 548.6 L660.5 549.6 L662.2 550.7 L663.8 551.9 L665.5 553.0 L667.1 554.2 L668.6 555.5 L670.2 556.8 L671.7 558.1 L673.2 559.4 L674.7 560.8 L676.1 562.2 L677.5 563.6 L678.8 565.2 L680.0 566.7 L681.2 568.3 L682.4 569.9 L683.5 571.6 L684.5 573.3 L685.5 575.1 L686.4 576.9 L687.2 578.7 L688.0 580.5 L688.7 582.4 L689.3 584.3 L689.9 586.2 L690.4 588.1 L690.9 590.1 L691.3 592.0 L691.7 594.0 L692.0 596.0 L692.3 598.0 L692.6 600.0 L692.9 602.0 L693.1 603.9 L693.3 605.9 L693.6 607.9 L693.7 609.9 L693.9 611.9 L694.0 613.9 L694.2 615.9 L694.2 617.9 L694.3 619.9 L694.4 621.9 L694.4 623.9 L694.5 625.9 L694.5 628.0 L694.6 630.0 L694.6 632.0 L694.6 634.0 L694.7 636.0 L694.7 638.0 L694.7 640.0 L694.8 642.0 L694.8 644.0 L694.8 645.0" stroke="#008000" stroke-width="2.30" stroke-dasharray="3 5 1 5"/>
<path d="M466.0 520.1 L468.5 519.8 L471.0 519.6 L473.5 519.3 L476.0 519.0 L478.5 518.8 L481.0 518.5 L483.5 518.3 L486.0 518.1 L488.4 517.8 L490.9 517.6 L493.4 517.4 L495.9 517.1 L498.4 516.9 L500.9 516.7 L503.4 516.5 L505.9 516.3 L508.4 516.1 L510.9 515.9 L513.4 515.8 L515.9 515.6 L518.4 515.4 L520.9 515.2 L523.4 515.0 L525.9 514.8 L528.4 514.6 L530.9 514.4 L533.4 514.2 L535.9 514.1 L538.4 513.9 L540.9 513.8 L543.4 513.6 L545.9 513.5 L548.4 513.4 L551.0 513.3 L553.5 513.2 L556.0 513.2 L558.5 513.1 L561.0 513.1 L563.5 513.1 L566.0 513.1 L568.5 513.1 L571.0 513.1 L573.5 513.1 L576.0 513.1 L578.5 513.1 L581.0 513.1 L583.5 513.1 L586.0 513.2 L588.5 513.2 L591.1 513.2 L593.6 513.2 L596.1 513.2 L598.6 513.2 L601.1 513.2 L603.6 513.3 L606.1 513.3 L608.6 513.3 L611.1 513.4 L613.6 513.4 L616.1 513.5 L618.6 513.7 L621.1 513.8 L623.6 514.0 L626.1 514.2 L628.6 514.5 L631.1 514.7 L633.6 514.9 L636.1 515.2 L638.6 515.5 L641.1 515.9 L643.5 516.4 L645.9 516.9 L648.3 517.6 L650.7 518.4 L653.0 519.4 L655.3 520.4 L657.6 521.5 L659.8 522.6 L662.0 523.8 L664.2 525.1 L666.3 526.4 L668.3 527.9 L670.3 529.4 L672.3 530.9 L674.2 532.6 L675.9 534.4 L677.6 536.2 L679.2 538.1 L680.7 540.1 L682.1 542.2 L683.4 544.3 L684.5 546.6 L685.6 548.8 L686.6 551.1 L687.4 553.5 L688.2 555.8 L689.0 558.2 L689.6 560.7 L690.1 563.1 L690.6 565.6 L691.1 568.0 L691.4 570.5 L691.8 573.0 L692.1 575.5 L692.4 578.0 L692.7 580.5 L692.9 583.0 L693.2 585.5 L693.4 587.9 L693.6 590.4 L693.8 592.9 L694.0 595.4 L694.2 597.9 L694.4 600.4 L694.6 602.9 L694.8 605.4 L694.9 607.9 L695.1 610.4 L695.3 612.9 L695.4 615.4 L695.6 618.0 L695.7 620.5 L695.8 623.0 L695.9 625.5 L696.0 628.0 L696.1 630.5 L696.2 633.0 L696.3 635.5 L696.4 638.0 L696.4 640.5 L696.5 643.0 L696.6 645.0" stroke="#ff0000" stroke-width="2.30" stroke-dasharray="3 5 1 5"/>
<path d="M466.0 544.8 L468.5 544.5 L471.0 544.2 L473.5 543.9 L476.0 543.6 L478.4 543.3 L480.9 543.0 L483.4 542.7 L485.9 542.4 L488.4 542.1 L490.9 541.8 L493.4 541.5 L495.9 541.2 L498.4 540.9 L500.9 540.7 L503.3 540.4 L505.8 540.1 L508.3 539.9 L510.8 539.6 L513.3 539.4 L515.8 539.1 L518.3 538.9 L520.8 538.6 L523.3 538.4 L525.8 538.1 L528.3 537.9 L530.8 537.7 L533.3 537.4 L535.8 537.2 L538.3 537.0 L540.8 536.8 L543.3 536.5 L545.8 536.3 L548.3 536.1 L550.8 535.9 L553.3 535.7 L555.8 535.5 L558.3 535.4 L560.8 535.2 L563.3 535.0 L565.8 534.8 L568.3 534.6 L570.8 534.5 L573.3 534.3 L575.8 534.1 L578.3 534.0 L580.8 533.8 L583.3 533.6 L585.8 533.5 L588.3 533.3 L590.8 533.2 L593.3 533.1 L595.8 532.9 L598.3 532.8 L600.8 532.7 L603.3 532.6 L605.8 532.5 L608.3 532.4 L610.8 532.3 L613.3 532.2 L615.8 532.1 L618.3 532.1 L620.8 532.0 L623.4 531.9 L625.9 531.9 L628.4 531.8 L630.9 531.7 L633.4 531.7 L635.9 531.6 L638.4 531.6 L640.9 531.6 L643.4 531.5 L645.9 531.5 L648.4 531.5 L650.9 531.6 L653.4 531.6 L655.9 531.7 L658.4 531.8 L660.9 531.9 L663.5 532.0 L666.0 532.1 L668.5 532.2 L671.0 532.4 L673.5 532.6 L676.0 532.8 L678.5 533.1 L680.9 533.4 L683.4 533.8 L685.9 534.2 L688.3 534.7 L690.8 535.2 L693.2 535.9 L695.6 536.7 L697.9 537.6 L700.2 538.6 L702.4 539.7 L704.6 541.0 L706.7 542.3 L708.6 543.8 L710.5 545.5 L712.3 547.2 L713.9 549.1 L715.5 551.1 L716.9 553.1 L718.2 555.3 L719.3 557.5 L720.4 559.8 L721.3 562.1 L722.2 564.4 L722.9 566.8 L723.6 569.2 L724.2 571.6 L724.8 574.1 L725.3 576.5 L725.8 579.0 L726.2 581.5 L726.6 584.0 L726.9 586.4 L727.2 588.9 L727.5 591.4 L727.7 593.9 L728.0 596.4 L728.2 598.9 L728.3 601.4 L728.5 603.9 L728.7 606.4 L728.8 608.9 L728.9 611.4 L729.0 613.9 L729.1 616.4 L729.2 618.9 L729.3 621.4 L729.4 623.9 L729.5 626.5 L729.5 629.0 L729.6 631.5 L729.7 634.0 L729.7 636.5 L729.8 639.0 L729.8 641.5 L729.9 644.0 L729.9 645.0" stroke="#008000" stroke-width="2.55"/>
<path d="M466.0 527.7 L468.5 527.4 L471.0 527.1 L473.5 526.8 L475.9 526.5 L478.4 526.2 L480.9 525.9 L483.4 525.6 L485.9 525.3 L488.4 525.0 L490.9 524.7 L493.4 524.4 L495.8 524.1 L498.3 523.8 L500.8 523.6 L503.3 523.3 L505.8 523.1 L508.3 522.8 L510.8 522.5 L513.3 522.3 L515.8 522.0 L518.3 521.8 L520.8 521.5 L523.2 521.3 L525.7 521.0 L528.2 520.8 L530.7 520.6 L533.2 520.3 L535.7 520.1 L538.2 519.9 L540.7 519.7 L543.2 519.4 L545.7 519.2 L548.2 519.0 L550.7 518.8 L553.2 518.6 L555.7 518.4 L558.2 518.3 L560.7 518.1 L563.2 517.9 L565.7 517.7 L568.2 517.6 L570.7 517.4 L573.2 517.2 L575.7 517.1 L578.2 516.9 L580.7 516.8 L583.2 516.6 L585.7 516.5 L588.2 516.3 L590.7 516.2 L593.2 516.0 L595.7 515.9 L598.2 515.8 L600.7 515.7 L603.2 515.6 L605.7 515.5 L608.2 515.4 L610.7 515.3 L613.2 515.2 L615.7 515.1 L618.2 515.1 L620.7 515.0 L623.2 514.9 L625.7 514.8 L628.2 514.8 L630.7 514.8 L633.2 514.7 L635.7 514.7 L638.2 514.7 L640.7 514.7 L643.3 514.7 L645.8 514.8 L648.3 514.8 L650.8 514.9 L653.3 514.9 L655.8 515.1 L658.3 515.2 L660.7 515.5 L663.2 515.8 L665.7 516.2 L668.2 516.7 L670.6 517.2 L673.0 517.8 L675.5 518.4 L677.9 519.1 L680.3 519.9 L682.6 520.7 L684.9 521.6 L687.2 522.7 L689.4 523.9 L691.5 525.2 L693.5 526.7 L695.3 528.3 L697.0 530.1 L698.5 532.1 L699.8 534.2 L701.0 536.3 L702.0 538.6 L702.9 541.0 L703.7 543.3 L704.3 545.7 L704.9 548.2 L705.5 550.6 L706.0 553.1 L706.4 555.5 L706.8 558.0 L707.2 560.5 L707.5 563.0 L707.8 565.5 L708.1 568.0 L708.3 570.4 L708.6 572.9 L708.8 575.4 L709.0 577.9 L709.2 580.4 L709.4 582.9 L709.6 585.4 L709.7 587.9 L709.9 590.4 L710.1 592.9 L710.2 595.4 L710.4 597.9 L710.5 600.4 L710.6 602.9 L710.7 605.4 L710.8 607.9 L710.8 610.4 L710.9 612.9 L711.0 615.4 L711.0 618.0 L711.1 620.5 L711.1 623.0 L711.2 625.5 L711.3 628.0 L711.3 630.5 L711.3 633.0 L711.4 635.5 L711.5 638.0 L711.5 640.5 L711.6 643.0 L711.6 645.0" stroke="#ff0000" stroke-width="2.55"/>
<path d="M466.0 536.3 L468.5 536.1 L471.0 535.8 L473.5 535.6 L476.0 535.4 L478.5 535.2 L481.0 535.0 L483.5 534.7 L486.0 534.5 L488.5 534.3 L491.0 534.1 L493.5 533.9 L496.0 533.7 L498.5 533.5 L501.0 533.2 L503.5 533.0 L506.0 532.8 L508.5 532.6 L510.9 532.4 L513.4 532.2 L515.9 532.1 L518.4 531.9 L520.9 531.7 L523.4 531.5 L525.9 531.3 L528.4 531.2 L531.0 531.0 L533.5 530.8 L536.0 530.7 L538.5 530.5 L541.0 530.3 L543.5 530.1 L546.0 529.9 L548.5 529.8 L551.0 529.6 L553.4 529.4 L555.9 529.2 L558.4 528.9 L560.9 528.7 L563.4 528.5 L565.9 528.3 L568.4 528.0 L570.9 527.8 L573.4 527.5 L575.9 527.2 L578.4 526.9 L580.9 526.6 L583.4 526.3 L585.8 526.0 L588.3 525.7 L590.8 525.3 L593.3 524.9 L595.8 524.5 L598.2 524.1 L600.7 523.7 L603.2 523.3 L605.7 522.9 L608.1 522.5 L610.6 522.1 L613.1 521.7 L615.6 521.2 L618.0 520.8 L620.5 520.4 L623.0 520.0 L625.4 519.5 L627.9 519.1 L630.4 518.6 L632.8 518.1 L635.3 517.5 L637.7 517.0 L640.1 516.4 L642.6 515.7 L645.0 515.1 L647.4 514.4 L649.8 513.7 L652.2 512.9 L654.6 512.2 L657.0 511.5 L659.4 510.7 L661.8 510.1 L664.3 509.4 L666.7 508.9 L669.1 508.4 L671.6 508.0 L674.1 507.6 L676.6 507.3 L679.0 507.0 L681.5 506.8 L684.0 506.6 L686.5 506.6 L689.0 506.7 L691.5 507.0 L694.0 507.4 L696.4 507.9 L698.8 508.6 L701.2 509.4 L703.5 510.3 L705.8 511.3 L708.0 512.5 L710.2 513.7 L712.3 515.1 L714.3 516.6 L716.2 518.2 L718.0 519.9 L719.7 521.8 L721.4 523.6 L722.9 525.6 L724.3 527.7 L725.6 529.8 L726.9 532.0 L728.0 534.2 L729.1 536.5 L730.1 538.8 L731.0 541.1 L731.8 543.4 L732.6 545.8 L733.3 548.2 L734.0 550.6 L734.7 553.1 L735.3 555.5 L735.9 557.9 L736.5 560.4 L737.1 562.8 L737.6 565.3 L738.2 567.7 L738.7 570.2 L739.2 572.6 L739.7 575.1 L740.2 577.5 L740.6 580.0 L741.1 582.5 L741.5 584.9 L741.9 587.4 L742.3 589.9 L742.7 592.4 L743.1 594.8 L743.5 597.3 L743.8 599.8 L744.2 602.3 L744.5 604.8 L744.9 607.2 L745.2 609.7 L745.6 612.2 L745.9 614.7 L746.3 617.2 L746.6 619.7 L747.0 622.1 L747.3 624.6 L747.6 627.1 L748.0 629.6 L748.3 632.1 L748.7 634.6 L749.0 637.0 L749.3 639.5 L749.6 642.0 L749.9 644.5 L750.0 645.0" stroke="#008000" stroke-width="2.55" stroke-dasharray="6 6" stroke-dashoffset="6.7"/>
<path d="M466.0 521.9 L469.0 521.5 L472.0 521.1 L474.9 520.7 L477.9 520.3 L480.9 519.9 L483.9 519.5 L486.9 519.1 L489.8 518.7 L492.8 518.3 L495.8 518.0 L498.8 517.6 L501.8 517.3 L504.8 517.0 L507.8 516.7 L510.8 516.4 L513.7 516.1 L516.7 515.8 L519.7 515.5 L522.7 515.3 L525.7 515.0 L528.7 514.8 L531.7 514.5 L534.7 514.3 L537.7 514.1 L540.7 513.8 L543.7 513.6 L546.7 513.4 L549.7 513.1 L552.7 512.8 L555.7 512.5 L558.7 512.2 L561.7 511.9 L564.7 511.6 L567.6 511.2 L570.6 510.9 L573.6 510.5 L576.6 510.1 L579.6 509.6 L582.5 509.2 L585.5 508.7 L588.5 508.2 L591.4 507.7 L594.4 507.1 L597.3 506.5 L600.3 505.9 L603.2 505.3 L606.1 504.7 L609.1 504.1 L612.0 503.5 L615.0 502.9 L617.9 502.3 L620.9 501.8 L623.8 501.2 L626.8 500.6 L629.7 500.0 L632.7 499.4 L635.6 498.7 L638.5 498.0 L641.4 497.2 L644.3 496.5 L647.2 495.7 L650.1 494.9 L653.0 494.0 L655.9 493.2 L658.8 492.4 L661.7 491.6 L664.6 490.8 L667.6 490.1 L670.5 489.5 L673.4 488.8 L676.4 488.3 L679.4 487.8 L682.3 487.5 L685.3 487.3 L688.3 487.5 L691.3 487.8 L694.2 488.3 L697.1 489.1 L699.8 490.2 L702.4 491.6 L704.9 493.2 L707.3 495.1 L709.5 497.1 L711.5 499.3 L713.4 501.7 L715.1 504.1 L716.8 506.6 L718.3 509.2 L719.6 511.9 L720.9 514.6 L722.1 517.4 L723.1 520.2 L724.1 523.1 L724.9 526.0 L725.7 528.9 L726.4 531.8 L727.1 534.7 L727.7 537.7 L728.3 540.6 L728.9 543.6 L729.4 546.5 L729.9 549.5 L730.3 552.5 L730.8 555.4 L731.2 558.4 L731.7 561.4 L732.1 564.4 L732.5 567.4 L732.9 570.3 L733.2 573.3 L733.6 576.3 L734.0 579.3 L734.3 582.3 L734.7 585.3 L735.1 588.2 L735.4 591.2 L735.8 594.2 L736.1 597.2 L736.5 600.2 L736.9 603.2 L737.2 606.1 L737.6 609.1 L737.9 612.1 L738.3 615.1 L738.6 618.1 L738.9 621.1 L739.2 624.1 L739.5 627.1 L739.9 630.0 L740.2 633.0 L740.5 636.0 L740.8 639.0 L741.1 642.0 L741.4 645.0" stroke="#ff0000" stroke-width="2.55" stroke-dasharray="6 6" stroke-dashoffset="1"/>
<path d="M798.0 645.0 L798.0 644.5 L798.0 644.0 L798.1 643.5 L798.1 643.0 L798.1 642.5 L798.1 642.0 L798.1 641.5 L798.2 641.0 L798.2 640.5 L798.2 639.9 L798.2 639.4 L798.3 638.9 L798.3 638.4 L798.3 637.9 L798.4 637.4 L798.4 636.9 L798.4 636.4 L798.5 635.9 L798.5 635.4 L798.5 634.9 L798.6 634.4 L798.6 633.9 L798.7 633.4 L798.7 632.9 L798.8 632.4 L798.8 631.9 L798.9 631.4 L799.0 630.9 L799.0 630.4 L799.1 629.9 L799.1 629.4 L799.2 628.9 L799.3 628.4 L799.3 627.9 L799.4 627.4 L799.5 626.9 L799.6 626.4 L799.6 625.9 L799.7 625.4 L799.8 624.9 L799.9 624.4 L799.9 623.9 L800.0 623.4 L800.1 622.9 L800.2 622.4 L800.3 621.9 L800.4 621.4 L800.4 620.9 L800.5 620.4 L800.6 619.9 L800.7 619.4 L800.8 618.9 L800.9 618.4 L801.0 617.9 L801.1 617.4 L801.1 616.9 L801.2 616.4 L801.3 615.9 L801.4 615.4 L801.5 614.9 L801.6 614.4 L801.7 613.9 L801.8 613.4 L801.9 612.9 L802.0 612.4 L802.1 611.9 L802.2 611.4 L802.3 610.9 L802.4 610.4 L802.5 609.9 L802.6 609.4 L802.8 609.0 L802.9 608.5 L803.0 608.0 L803.1 607.5 L803.2 607.0 L803.3 606.5 L803.5 606.0 L803.6 605.5 L803.7 605.0 L803.9 604.5 L804.0 604.0 L804.1 603.6 L804.3 603.1 L804.4 602.6 L804.6 602.1 L804.7 601.6 L804.9 601.1 L805.0 600.7 L805.2 600.2 L805.4 599.7 L805.5 599.2 L805.7 598.8 L805.9 598.3 L806.1 597.8 L806.3 597.4 L806.5 596.9 L806.7 596.5 L806.9 596.0 L807.1 595.6 L807.4 595.1 L807.6 594.7 L807.9 594.3 L808.1 593.9 L808.4 593.4 L808.7 593.0 L808.9 592.7 L809.2 592.3 L809.5 591.9 L809.9 591.5 L810.2 591.2 L810.5 590.8 L810.9 590.5 L811.2 590.2 L811.6 589.9 L812.0 589.6 L812.4 589.3 L812.8 589.0 L813.2 588.8 L813.6 588.5 L814.0 588.3 L814.4 588.1 L814.9 587.9 L815.3 587.7 L815.8 587.5 L816.2 587.3 L816.7 587.1 L817.2 587.0 L817.6 586.9 L818.1 586.7 L818.6 586.6 L819.1 586.5 L819.5 586.3 L820.0 586.2 L820.5 586.1 L821.0 586.0" stroke="#ff0000" stroke-width="2.55" stroke-dasharray="6 6"/>
</g>
<path d="M109.61 302.00 v-6 M109.61 19.10 v6 M285.71 302.00 v-6 M285.71 19.10 v6 M56.60 19.10 h6 M408.80 19.10 h-6 M56.60 56.82 h6 M408.80 56.82 h-6 M56.60 94.54 h6 M408.80 94.54 h-6 M56.60 132.26 h6 M408.80 132.26 h-6 M56.60 169.98 h6 M408.80 169.98 h-6 M56.60 207.70 h6 M408.80 207.70 h-6 M56.60 245.42 h6 M408.80 245.42 h-6 M56.60 283.14 h6 M408.80 283.14 h-6" stroke="#000" stroke-width="1" fill="none"/>
<path d="M70.54 302.00 v-3.2 M70.54 19.10 v3.2 M82.33 302.00 v-3.2 M82.33 19.10 v3.2 M92.55 302.00 v-3.2 M92.55 19.10 v3.2 M101.55 302.00 v-3.2 M101.55 19.10 v3.2 M162.62 302.00 v-3.2 M162.62 19.10 v3.2 M193.63 302.00 v-3.2 M193.63 19.10 v3.2 M215.63 302.00 v-3.2 M215.63 19.10 v3.2 M232.70 302.00 v-3.2 M232.70 19.10 v3.2 M246.64 302.00 v-3.2 M246.64 19.10 v3.2 M258.43 302.00 v-3.2 M258.43 19.10 v3.2 M268.65 302.00 v-3.2 M268.65 19.10 v3.2 M277.65 302.00 v-3.2 M277.65 19.10 v3.2 M338.72 302.00 v-3.2 M338.72 19.10 v3.2 M369.73 302.00 v-3.2 M369.73 19.10 v3.2 M391.73 302.00 v-3.2 M391.73 19.10 v3.2" stroke="#000" stroke-width="0.8" fill="none"/>
<rect x="56.60" y="19.10" width="352.20" height="282.90" fill="none" stroke="#000" stroke-width="2.5"/>
<path d="M34.80 94.44 h9.1" stroke="#222" stroke-width="1" fill="none"/>
<path d="M34.80 132.16 h9.1" stroke="#222" stroke-width="1" fill="none"/>
<path d="M34.80 169.88 h9.1" stroke="#222" stroke-width="1" fill="none"/>
<path d="M34.80 207.60 h9.1" stroke="#222" stroke-width="1" fill="none"/>
<path d="M34.80 245.32 h9.1" stroke="#222" stroke-width="1" fill="none"/>
<path d="M34.80 283.04 h9.1" stroke="#222" stroke-width="1" fill="none"/>
<path d="M518.67 302.00 v-6 M518.67 19.10 v6 M694.62 302.00 v-6 M694.62 19.10 v6 M465.70 19.10 h6 M817.60 19.10 h-6 M465.70 56.82 h6 M817.60 56.82 h-6 M465.70 94.54 h6 M817.60 94.54 h-6 M465.70 132.26 h6 M817.60 132.26 h-6 M465.70 169.98 h6 M817.60 169.98 h-6 M465.70 207.70 h6 M817.60 207.70 h-6 M465.70 245.42 h6 M817.60 245.42 h-6 M465.70 283.14 h6 M817.60 283.14 h-6" stroke="#000" stroke-width="1" fill="none"/>
<path d="M479.63 302.00 v-3.2 M479.63 19.10 v3.2 M491.41 302.00 v-3.2 M491.41 19.10 v3.2 M501.61 302.00 v-3.2 M501.61 19.10 v3.2 M510.62 302.00 v-3.2 M510.62 19.10 v3.2 M571.63 302.00 v-3.2 M571.63 19.10 v3.2 M602.62 302.00 v-3.2 M602.62 19.10 v3.2 M624.60 302.00 v-3.2 M624.60 19.10 v3.2 M641.65 302.00 v-3.2 M641.65 19.10 v3.2 M655.58 302.00 v-3.2 M655.58 19.10 v3.2 M667.36 302.00 v-3.2 M667.36 19.10 v3.2 M677.56 302.00 v-3.2 M677.56 19.10 v3.2 M686.57 302.00 v-3.2 M686.57 19.10 v3.2 M747.58 302.00 v-3.2 M747.58 19.10 v3.2 M778.57 302.00 v-3.2 M778.57 19.10 v3.2 M800.55 302.00 v-3.2 M800.55 19.10 v3.2" stroke="#000" stroke-width="0.8" fill="none"/>
<rect x="465.70" y="19.10" width="351.90" height="282.90" fill="none" stroke="#000" stroke-width="2.5"/>
<path d="M443.90 94.44 h9.1" stroke="#222" stroke-width="1" fill="none"/>
<path d="M443.90 132.16 h9.1" stroke="#222" stroke-width="1" fill="none"/>
<path d="M443.90 169.88 h9.1" stroke="#222" stroke-width="1" fill="none"/>
<path d="M443.90 207.60 h9.1" stroke="#222" stroke-width="1" fill="none"/>
<path d="M443.90 245.32 h9.1" stroke="#222" stroke-width="1" fill="none"/>
<path d="M443.90 283.04 h9.1" stroke="#222" stroke-width="1" fill="none"/>
<path d="M109.61 641.90 v-6 M109.61 359.00 v6 M285.71 641.90 v-6 M285.71 359.00 v6 M56.60 359.00 h6 M408.80 359.00 h-6 M56.60 415.58 h6 M408.80 415.58 h-6 M56.60 472.16 h6 M408.80 472.16 h-6 M56.60 528.74 h6 M408.80 528.74 h-6 M56.60 585.32 h6 M408.80 585.32 h-6 M56.60 641.90 h6 M408.80 641.90 h-6" stroke="#000" stroke-width="1" fill="none"/>
<path d="M70.54 641.90 v-3.2 M70.54 359.00 v3.2 M82.33 641.90 v-3.2 M82.33 359.00 v3.2 M92.55 641.90 v-3.2 M92.55 359.00 v3.2 M101.55 641.90 v-3.2 M101.55 359.00 v3.2 M162.62 641.90 v-3.2 M162.62 359.00 v3.2 M193.63 641.90 v-3.2 M193.63 359.00 v3.2 M215.63 641.90 v-3.2 M215.63 359.00 v3.2 M232.70 641.90 v-3.2 M232.70 359.00 v3.2 M246.64 641.90 v-3.2 M246.64 359.00 v3.2 M258.43 641.90 v-3.2 M258.43 359.00 v3.2 M268.65 641.90 v-3.2 M268.65 359.00 v3.2 M277.65 641.90 v-3.2 M277.65 359.00 v3.2 M338.72 641.90 v-3.2 M338.72 359.00 v3.2 M369.73 641.90 v-3.2 M369.73 359.00 v3.2 M391.73 641.90 v-3.2 M391.73 359.00 v3.2" stroke="#000" stroke-width="0.8" fill="none"/>
<rect x="56.60" y="359.00" width="352.20" height="282.90" fill="none" stroke="#000" stroke-width="2.5"/>
<path d="M34.80 358.90 h9.1" stroke="#222" stroke-width="1" fill="none"/>
<path d="M34.80 415.48 h9.1" stroke="#222" stroke-width="1" fill="none"/>
<path d="M34.80 472.06 h9.1" stroke="#222" stroke-width="1" fill="none"/>
<path d="M34.80 528.64 h9.1" stroke="#222" stroke-width="1" fill="none"/>
<path d="M34.80 585.22 h9.1" stroke="#222" stroke-width="1" fill="none"/>
<path d="M34.80 641.80 h9.1" stroke="#222" stroke-width="1" fill="none"/>
<path d="M518.67 641.90 v-6 M518.67 359.00 v6 M694.62 641.90 v-6 M694.62 359.00 v6 M465.70 359.00 h6 M817.60 359.00 h-6 M465.70 415.58 h6 M817.60 415.58 h-6 M465.70 472.16 h6 M817.60 472.16 h-6 M465.70 528.74 h6 M817.60 528.74 h-6 M465.70 585.32 h6 M817.60 585.32 h-6 M465.70 641.90 h6 M817.60 641.90 h-6" stroke="#000" stroke-width="1" fill="none"/>
<path d="M479.63 641.90 v-3.2 M479.63 359.00 v3.2 M491.41 641.90 v-3.2 M491.41 359.00 v3.2 M501.61 641.90 v-3.2 M501.61 359.00 v3.2 M510.62 641.90 v-3.2 M510.62 359.00 v3.2 M571.63 641.90 v-3.2 M571.63 359.00 v3.2 M602.62 641.90 v-3.2 M602.62 359.00 v3.2 M624.60 641.90 v-3.2 M624.60 359.00 v3.2 M641.65 641.90 v-3.2 M641.65 359.00 v3.2 M655.58 641.90 v-3.2 M655.58 359.00 v3.2 M667.36 641.90 v-3.2 M667.36 359.00 v3.2 M677.56 641.90 v-3.2 M677.56 359.00 v3.2 M686.57 641.90 v-3.2 M686.57 359.00 v3.2 M747.58 641.90 v-3.2 M747.58 359.00 v3.2 M778.57 641.90 v-3.2 M778.57 359.00 v3.2 M800.55 641.90 v-3.2 M800.55 359.00 v3.2" stroke="#000" stroke-width="0.8" fill="none"/>
<rect x="465.70" y="359.00" width="351.90" height="282.90" fill="none" stroke="#000" stroke-width="2.5"/>
<path d="M443.90 358.90 h9.1" stroke="#222" stroke-width="1" fill="none"/>
<path d="M443.90 415.48 h9.1" stroke="#222" stroke-width="1" fill="none"/>
<path d="M443.90 472.06 h9.1" stroke="#222" stroke-width="1" fill="none"/>
<path d="M443.90 528.64 h9.1" stroke="#222" stroke-width="1" fill="none"/>
<path d="M443.90 585.22 h9.1" stroke="#222" stroke-width="1" fill="none"/>
<path d="M443.90 641.80 h9.1" stroke="#222" stroke-width="1" fill="none"/>
<path d="M68.50 227.70 H96.50" stroke="#000" stroke-width="2.55" fill="none" stroke-dasharray="1.3 2.7"/>
<path d="M68.50 247.00 H96.50" stroke="#000" stroke-width="2.55" fill="none"/>
<path d="M68.50 265.80 H96.50" stroke="#000" stroke-width="2.55" fill="none" stroke-dasharray="6 6"/>
<path d="M477.50 208.50 H505.50" stroke="#000" stroke-width="2.55" fill="none" stroke-dasharray="1.3 2.7"/>
<path d="M477.50 227.50 H505.50" stroke="#000" stroke-width="2.30" fill="none" stroke-dasharray="3 5 1 5"/>
<path d="M477.50 246.80 H505.50" stroke="#000" stroke-width="2.55" fill="none"/>
<path d="M477.50 265.80 H505.50" stroke="#000" stroke-width="2.55" fill="none" stroke-dasharray="6 6"/>
<path d="M68.50 587.00 H96.50" stroke="#000" stroke-width="2.55" fill="none"/>
<path d="M68.50 605.80 H96.50" stroke="#000" stroke-width="2.55" fill="none" stroke-dasharray="6 6"/>
<path d="M477.50 568.20 H505.50" stroke="#000" stroke-width="2.30" fill="none" stroke-dasharray="3 5 1 5"/>
<path d="M477.50 586.50 H505.50" stroke="#000" stroke-width="2.55" fill="none"/>
<path d="M477.50 605.30 H505.50" stroke="#000" stroke-width="2.55" fill="none" stroke-dasharray="6 6"/>
<g style="filter:brightness(1)" fill="#222">
<text x="52.90" y="23.10" font-size="15.6" text-anchor="end">1</text>
<text x="52.90" y="60.82" font-size="15.6" text-anchor="end">0</text>
<text x="52.90" y="98.54" font-size="15.6" text-anchor="end">1</text>
<text x="52.90" y="136.26" font-size="15.6" text-anchor="end">2</text>
<text x="52.90" y="173.98" font-size="15.6" text-anchor="end">3</text>
<text x="52.90" y="211.70" font-size="15.6" text-anchor="end">4</text>
<text x="52.90" y="249.42" font-size="15.6" text-anchor="end">5</text>
<text x="52.90" y="287.14" font-size="15.6" text-anchor="end">6</text>
<text x="109.61" y="316.40" font-size="15" text-anchor="middle">10</text>
<text x="285.71" y="316.40" font-size="15" text-anchor="middle">100</text>
<text x="232.70" y="336.00" font-size="15" text-anchor="middle"><tspan font-style="italic">r</tspan> [AU]</text>
<text x="462.00" y="23.10" font-size="15.6" text-anchor="end">1</text>
<text x="462.00" y="60.82" font-size="15.6" text-anchor="end">0</text>
<text x="462.00" y="98.54" font-size="15.6" text-anchor="end">1</text>
<text x="462.00" y="136.26" font-size="15.6" text-anchor="end">2</text>
<text x="462.00" y="173.98" font-size="15.6" text-anchor="end">3</text>
<text x="462.00" y="211.70" font-size="15.6" text-anchor="end">4</text>
<text x="462.00" y="249.42" font-size="15.6" text-anchor="end">5</text>
<text x="462.00" y="287.14" font-size="15.6" text-anchor="end">6</text>
<text x="518.67" y="316.40" font-size="15" text-anchor="middle">10</text>
<text x="694.62" y="316.40" font-size="15" text-anchor="middle">100</text>
<text x="641.65" y="336.00" font-size="15" text-anchor="middle"><tspan font-style="italic">r</tspan> [AU]</text>
<text x="52.90" y="363.00" font-size="15.6" text-anchor="end">1</text>
<text x="52.90" y="419.58" font-size="15.6" text-anchor="end">2</text>
<text x="52.90" y="476.16" font-size="15.6" text-anchor="end">3</text>
<text x="52.90" y="532.74" font-size="15.6" text-anchor="end">4</text>
<text x="52.90" y="589.32" font-size="15.6" text-anchor="end">5</text>
<text x="52.90" y="645.90" font-size="15.6" text-anchor="end">6</text>
<text x="109.61" y="656.30" font-size="15" text-anchor="middle">10</text>
<text x="285.71" y="656.30" font-size="15" text-anchor="middle">100</text>
<text x="232.70" y="675.90" font-size="15" text-anchor="middle"><tspan font-style="italic">r</tspan> [AU]</text>
<text x="462.00" y="363.00" font-size="15.6" text-anchor="end">1</text>
<text x="462.00" y="419.58" font-size="15.6" text-anchor="end">2</text>
<text x="462.00" y="476.16" font-size="15.6" text-anchor="end">3</text>
<text x="462.00" y="532.74" font-size="15.6" text-anchor="end">4</text>
<text x="462.00" y="589.32" font-size="15.6" text-anchor="end">5</text>
<text x="462.00" y="645.90" font-size="15.6" text-anchor="end">6</text>
<text x="518.67" y="656.30" font-size="15" text-anchor="middle">10</text>
<text x="694.62" y="656.30" font-size="15" text-anchor="middle">100</text>
<text x="641.65" y="675.90" font-size="15" text-anchor="middle"><tspan font-style="italic">r</tspan> [AU]</text>
<text x="401.70" y="37.10" font-size="15.50" text-anchor="end" >early phase</text>
<text x="107.00" y="230.20" font-size="15.50" text-anchor="start" >&#931;<tspan font-size="11" dy="3">g</tspan><tspan dy="-3"></tspan></text>
<text x="107.00" y="249.50" font-size="15.50" text-anchor="start" >&#931;<tspan font-size="11" dy="3">d</tspan><tspan dy="-3">, analytical</tspan></text>
<text x="107.00" y="268.00" font-size="15.50" text-anchor="start" >&#931;<tspan font-size="11" dy="3">d</tspan><tspan dy="-3">, numerical</tspan></text>
<text x="68.00" y="294.10" font-size="15.50" text-anchor="start" textLength="78.5">log (<tspan font-style="italic">t</tspan>/yr) =</text>
<text x="162.00" y="294.10" font-size="15.50" text-anchor="start" >3</text>
<text x="177.50" y="294.10" font-size="15.50" text-anchor="start" >,</text>
<text x="188.60" y="294.10" font-size="15.50" text-anchor="start" fill="#0000ff" >4</text>
<text x="204.50" y="294.10" font-size="15.50" text-anchor="start" >,</text>
<text x="215.20" y="294.10" font-size="15.50" text-anchor="start" fill="#ff0000" >5</text>
<text transform="translate(24.80 160.50) rotate(-90)" font-size="15.5" text-anchor="middle">log &#931;<tspan font-size="11" dy="3">d</tspan><tspan dy="-3"> [g cm</tspan><tspan font-size="11" dy="-6">&#8722;2</tspan><tspan dy="6">]</tspan></text>
<text transform="translate(433.50 160.50) rotate(-90)" font-size="15.5" text-anchor="middle">log &#931;<tspan font-size="11" dy="3">d</tspan><tspan dy="-3"> [g cm</tspan><tspan font-size="11" dy="-6">&#8722;2</tspan><tspan dy="6">]</tspan></text>
<text transform="translate(25.20 500.50) rotate(-90)" font-size="15.5" text-anchor="middle">log <tspan font-style="italic">&#1013;</tspan></text>
<text transform="translate(433.50 500.50) rotate(-90)" font-size="15.5" text-anchor="middle">log <tspan font-style="italic">&#1013;</tspan></text>
<text x="810.50" y="37.10" font-size="15.50" text-anchor="end" >late phase</text>
<text x="515.60" y="211.00" font-size="15.50" text-anchor="start" >&#931;<tspan font-size="11" dy="3">g</tspan><tspan dy="-3"></tspan></text>
<text x="515.60" y="230.20" font-size="15.50" text-anchor="start" >&#931;<tspan font-size="11" dy="3">d</tspan><tspan dy="-3">, analytical</tspan></text>
<text x="515.60" y="249.50" font-size="15.50" text-anchor="start" textLength="123">&#931;<tspan font-size="11" dy="3">d</tspan><tspan dy="-3">, semi-analytical</tspan></text>
<text x="515.60" y="268.00" font-size="15.50" text-anchor="start" >&#931;<tspan font-size="11" dy="3">d</tspan><tspan dy="-3">, numerical</tspan></text>
<text x="476.30" y="294.10" font-size="15.50" text-anchor="start" textLength="78.5">log (<tspan font-style="italic">t</tspan>/yr) =</text>
<text x="571.50" y="294.10" font-size="15.50" text-anchor="start" fill="#ff0000" >5.7</text>
<text x="598.50" y="294.10" font-size="15.50" text-anchor="start" >,</text>
<text x="610.40" y="294.10" font-size="15.50" text-anchor="start" fill="#008000" >6</text>
<text x="401.70" y="377.00" font-size="15.50" text-anchor="end" >early phase</text>
<text x="107.00" y="590.80" font-size="15.50" text-anchor="start" >analytical</text>
<text x="107.00" y="609.60" font-size="15.50" text-anchor="start" >numerical</text>
<text x="68.00" y="634.10" font-size="15.50" text-anchor="start" textLength="78.5">log (<tspan font-style="italic">t</tspan>/yr) =</text>
<text x="162.00" y="634.10" font-size="15.50" text-anchor="start" >3</text>
<text x="177.50" y="634.10" font-size="15.50" text-anchor="start" >,</text>
<text x="188.60" y="634.10" font-size="15.50" text-anchor="start" fill="#0000ff" >4</text>
<text x="204.50" y="634.10" font-size="15.50" text-anchor="start" >,</text>
<text x="215.20" y="634.10" font-size="15.50" text-anchor="start" fill="#ff0000" >5</text>
<text x="810.50" y="377.00" font-size="15.50" text-anchor="end" >late phase</text>
<text x="515.60" y="571.50" font-size="15.50" text-anchor="start" >analytical</text>
<text x="515.60" y="590.30" font-size="15.50" text-anchor="start" textLength="97">semi-analytical</text>
<text x="515.60" y="609.10" font-size="15.50" text-anchor="start" >numerical</text>
<text x="476.30" y="634.10" font-size="15.50" text-anchor="start" textLength="78.5">log (<tspan font-style="italic">t</tspan>/yr) =</text>
<text x="571.50" y="634.10" font-size="15.50" text-anchor="start" fill="#ff0000" >5.7</text>
<text x="598.50" y="634.10" font-size="15.50" text-anchor="start" >,</text>
<text x="610.40" y="634.10" font-size="15.50" text-anchor="start" fill="#008000" >6</text>
</g>
</svg></body></html>
